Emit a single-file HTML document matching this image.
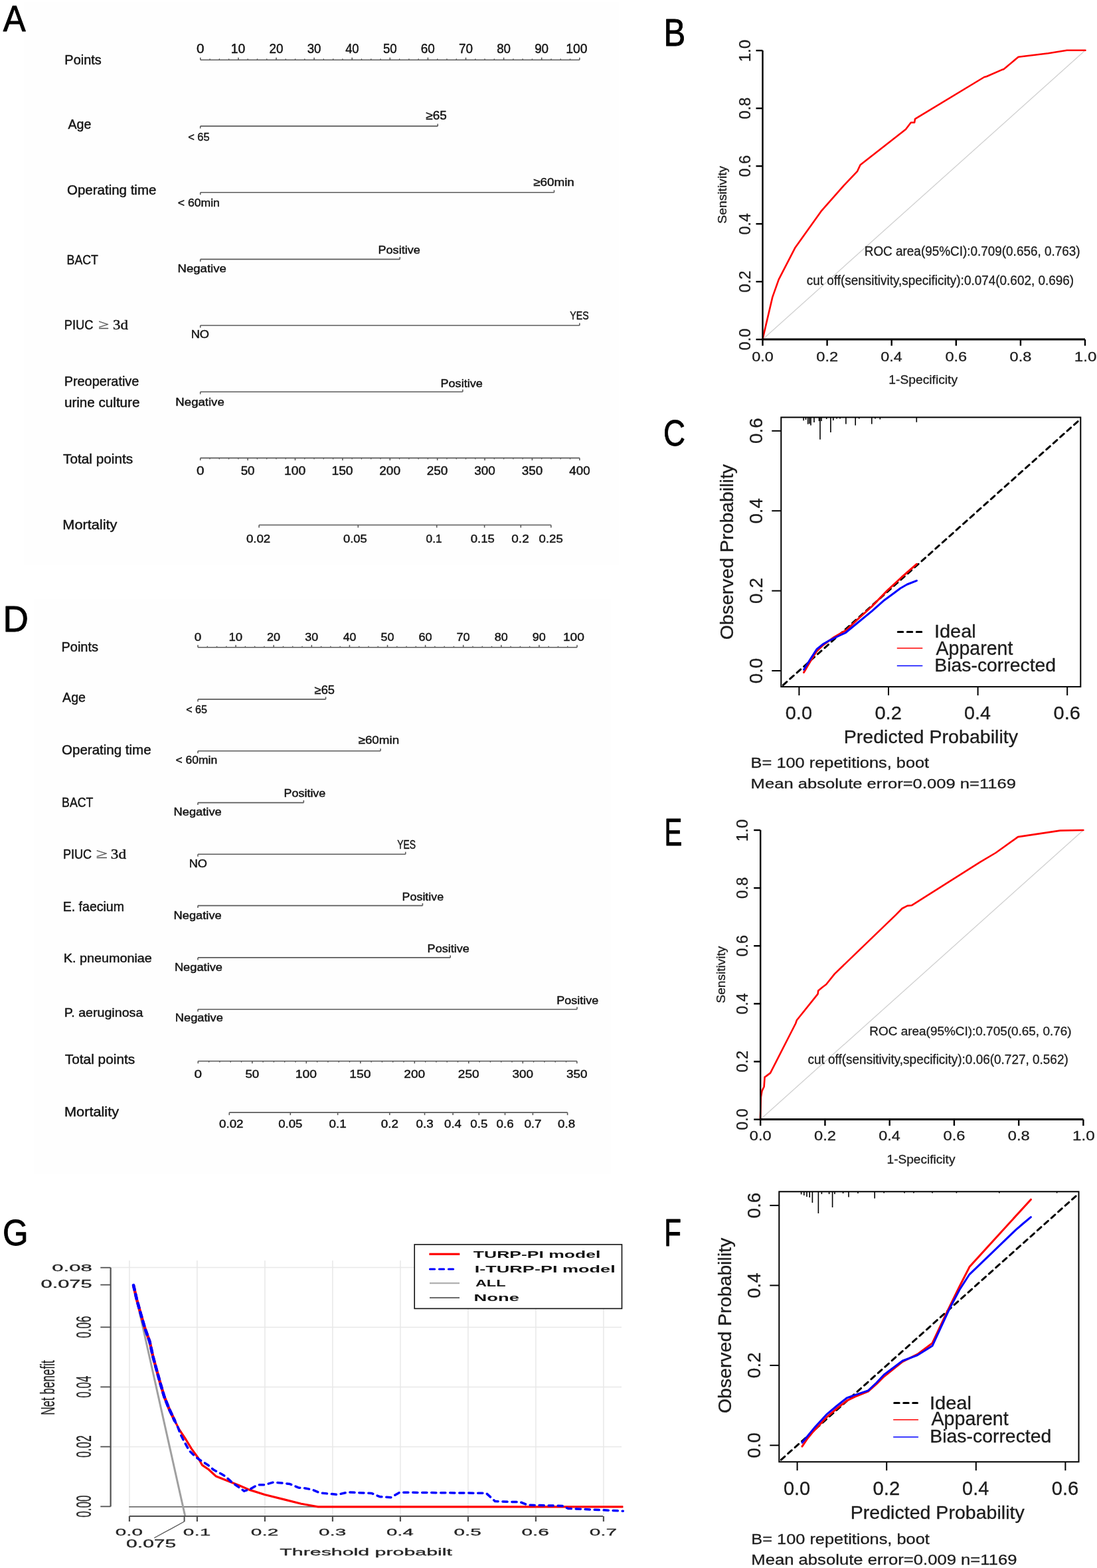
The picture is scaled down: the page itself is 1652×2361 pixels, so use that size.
<!DOCTYPE html>
<html><head><meta charset="utf-8"><title>Figure</title>
<style>html,body{margin:0;padding:0;background:#fff;}body{width:1652px;height:2361px;overflow:hidden;}svg{display:block;}text{white-space:pre;}</style>
</head><body>
<svg width="1652" height="2361" viewBox="0 0 1652 2361">
<rect x="0" y="0" width="1652" height="2361" fill="#ffffff"/>
<rect x="36.00" y="3.00" width="896.00" height="848.00" fill="#fefefe" stroke="none" stroke-width="1"/>
<rect x="51.00" y="902.00" width="869.00" height="866.00" fill="#fefefe" stroke="none" stroke-width="1"/>
<text x="4.80" y="46.60" font-family='"Liberation Sans", Arial, sans-serif' font-size="56.11" fill="#000" textLength="33.90" lengthAdjust="spacingAndGlyphs" stroke="#000" stroke-width="0.9" stroke-linejoin="round">A</text>
<text x="999.58" y="69.40" font-family='"Liberation Sans", Arial, sans-serif' font-size="57.41" fill="#000" textLength="32.71" lengthAdjust="spacingAndGlyphs" stroke="#000" stroke-width="0.9" stroke-linejoin="round">B</text>
<text x="998.88" y="671.20" font-family='"Liberation Sans", Arial, sans-serif' font-size="55.71" fill="#000" textLength="32.96" lengthAdjust="spacingAndGlyphs" stroke="#000" stroke-width="0.9" stroke-linejoin="round">C</text>
<text x="4.54" y="950.50" font-family='"Liberation Sans", Arial, sans-serif' font-size="56.40" fill="#000" textLength="38.41" lengthAdjust="spacingAndGlyphs" stroke="#000" stroke-width="0.9" stroke-linejoin="round">D</text>
<text x="1000.39" y="1273.40" font-family='"Liberation Sans", Arial, sans-serif' font-size="57.27" fill="#000" textLength="26.95" lengthAdjust="spacingAndGlyphs" stroke="#000" stroke-width="0.9" stroke-linejoin="round">E</text>
<text x="1000.24" y="1875.60" font-family='"Liberation Sans", Arial, sans-serif' font-size="57.41" fill="#000" textLength="25.74" lengthAdjust="spacingAndGlyphs" stroke="#000" stroke-width="0.9" stroke-linejoin="round">F</text>
<text x="3.90" y="1875.30" font-family='"Liberation Sans", Arial, sans-serif' font-size="56.00" fill="#000" textLength="38.60" lengthAdjust="spacingAndGlyphs" stroke="#000" stroke-width="0.9" stroke-linejoin="round">G</text>
<line x1="301.80" y1="90.30" x2="872.80" y2="90.30" stroke="#5a5a5a" stroke-width="1.6"/>
<line x1="301.80" y1="90.30" x2="301.80" y2="86.70" stroke="#5a5a5a" stroke-width="1.6"/>
<line x1="358.90" y1="90.30" x2="358.90" y2="86.70" stroke="#5a5a5a" stroke-width="1.6"/>
<line x1="416.00" y1="90.30" x2="416.00" y2="86.70" stroke="#5a5a5a" stroke-width="1.6"/>
<line x1="473.10" y1="90.30" x2="473.10" y2="86.70" stroke="#5a5a5a" stroke-width="1.6"/>
<line x1="530.20" y1="90.30" x2="530.20" y2="86.70" stroke="#5a5a5a" stroke-width="1.6"/>
<line x1="587.30" y1="90.30" x2="587.30" y2="86.70" stroke="#5a5a5a" stroke-width="1.6"/>
<line x1="644.40" y1="90.30" x2="644.40" y2="86.70" stroke="#5a5a5a" stroke-width="1.6"/>
<line x1="701.50" y1="90.30" x2="701.50" y2="86.70" stroke="#5a5a5a" stroke-width="1.6"/>
<line x1="758.60" y1="90.30" x2="758.60" y2="86.70" stroke="#5a5a5a" stroke-width="1.6"/>
<line x1="815.70" y1="90.30" x2="815.70" y2="86.70" stroke="#5a5a5a" stroke-width="1.6"/>
<line x1="872.80" y1="90.30" x2="872.80" y2="86.70" stroke="#5a5a5a" stroke-width="1.6"/>
<line x1="316.07" y1="90.30" x2="316.07" y2="88.30" stroke="#5a5a5a" stroke-width="1.3"/>
<line x1="330.35" y1="90.30" x2="330.35" y2="88.30" stroke="#5a5a5a" stroke-width="1.3"/>
<line x1="344.62" y1="90.30" x2="344.62" y2="88.30" stroke="#5a5a5a" stroke-width="1.3"/>
<line x1="373.18" y1="90.30" x2="373.18" y2="88.30" stroke="#5a5a5a" stroke-width="1.3"/>
<line x1="387.45" y1="90.30" x2="387.45" y2="88.30" stroke="#5a5a5a" stroke-width="1.3"/>
<line x1="401.73" y1="90.30" x2="401.73" y2="88.30" stroke="#5a5a5a" stroke-width="1.3"/>
<line x1="430.27" y1="90.30" x2="430.27" y2="88.30" stroke="#5a5a5a" stroke-width="1.3"/>
<line x1="444.55" y1="90.30" x2="444.55" y2="88.30" stroke="#5a5a5a" stroke-width="1.3"/>
<line x1="458.83" y1="90.30" x2="458.83" y2="88.30" stroke="#5a5a5a" stroke-width="1.3"/>
<line x1="487.38" y1="90.30" x2="487.38" y2="88.30" stroke="#5a5a5a" stroke-width="1.3"/>
<line x1="501.65" y1="90.30" x2="501.65" y2="88.30" stroke="#5a5a5a" stroke-width="1.3"/>
<line x1="515.92" y1="90.30" x2="515.92" y2="88.30" stroke="#5a5a5a" stroke-width="1.3"/>
<line x1="544.48" y1="90.30" x2="544.48" y2="88.30" stroke="#5a5a5a" stroke-width="1.3"/>
<line x1="558.75" y1="90.30" x2="558.75" y2="88.30" stroke="#5a5a5a" stroke-width="1.3"/>
<line x1="573.03" y1="90.30" x2="573.03" y2="88.30" stroke="#5a5a5a" stroke-width="1.3"/>
<line x1="601.58" y1="90.30" x2="601.58" y2="88.30" stroke="#5a5a5a" stroke-width="1.3"/>
<line x1="615.85" y1="90.30" x2="615.85" y2="88.30" stroke="#5a5a5a" stroke-width="1.3"/>
<line x1="630.12" y1="90.30" x2="630.12" y2="88.30" stroke="#5a5a5a" stroke-width="1.3"/>
<line x1="658.67" y1="90.30" x2="658.67" y2="88.30" stroke="#5a5a5a" stroke-width="1.3"/>
<line x1="672.95" y1="90.30" x2="672.95" y2="88.30" stroke="#5a5a5a" stroke-width="1.3"/>
<line x1="687.23" y1="90.30" x2="687.23" y2="88.30" stroke="#5a5a5a" stroke-width="1.3"/>
<line x1="715.78" y1="90.30" x2="715.78" y2="88.30" stroke="#5a5a5a" stroke-width="1.3"/>
<line x1="730.05" y1="90.30" x2="730.05" y2="88.30" stroke="#5a5a5a" stroke-width="1.3"/>
<line x1="744.33" y1="90.30" x2="744.33" y2="88.30" stroke="#5a5a5a" stroke-width="1.3"/>
<line x1="772.88" y1="90.30" x2="772.88" y2="88.30" stroke="#5a5a5a" stroke-width="1.3"/>
<line x1="787.15" y1="90.30" x2="787.15" y2="88.30" stroke="#5a5a5a" stroke-width="1.3"/>
<line x1="801.42" y1="90.30" x2="801.42" y2="88.30" stroke="#5a5a5a" stroke-width="1.3"/>
<line x1="829.98" y1="90.30" x2="829.98" y2="88.30" stroke="#5a5a5a" stroke-width="1.3"/>
<line x1="844.25" y1="90.30" x2="844.25" y2="88.30" stroke="#5a5a5a" stroke-width="1.3"/>
<line x1="858.53" y1="90.30" x2="858.53" y2="88.30" stroke="#5a5a5a" stroke-width="1.3"/>
<text x="296.04" y="79.80" font-family='"Liberation Sans", Arial, sans-serif' font-size="19.62" fill="#141414" textLength="11.52" lengthAdjust="spacingAndGlyphs" stroke="#141414" stroke-width="0.45" stroke-linejoin="round">0</text>
<text x="347.78" y="79.80" font-family='"Liberation Sans", Arial, sans-serif' font-size="19.62" fill="#141414" textLength="21.53" lengthAdjust="spacingAndGlyphs" stroke="#141414" stroke-width="0.45" stroke-linejoin="round">10</text>
<text x="405.40" y="79.80" font-family='"Liberation Sans", Arial, sans-serif' font-size="19.62" fill="#141414" textLength="20.99" lengthAdjust="spacingAndGlyphs" stroke="#141414" stroke-width="0.45" stroke-linejoin="round">20</text>
<text x="462.74" y="79.80" font-family='"Liberation Sans", Arial, sans-serif' font-size="19.62" fill="#141414" textLength="20.74" lengthAdjust="spacingAndGlyphs" stroke="#141414" stroke-width="0.45" stroke-linejoin="round">30</text>
<text x="520.13" y="79.80" font-family='"Liberation Sans", Arial, sans-serif' font-size="19.62" fill="#141414" textLength="20.44" lengthAdjust="spacingAndGlyphs" stroke="#141414" stroke-width="0.45" stroke-linejoin="round">40</text>
<text x="576.90" y="79.80" font-family='"Liberation Sans", Arial, sans-serif' font-size="19.62" fill="#141414" textLength="20.78" lengthAdjust="spacingAndGlyphs" stroke="#141414" stroke-width="0.45" stroke-linejoin="round">50</text>
<text x="633.79" y="79.80" font-family='"Liberation Sans", Arial, sans-serif' font-size="19.62" fill="#141414" textLength="21.00" lengthAdjust="spacingAndGlyphs" stroke="#141414" stroke-width="0.45" stroke-linejoin="round">60</text>
<text x="690.88" y="79.80" font-family='"Liberation Sans", Arial, sans-serif' font-size="19.62" fill="#141414" textLength="21.01" lengthAdjust="spacingAndGlyphs" stroke="#141414" stroke-width="0.45" stroke-linejoin="round">70</text>
<text x="748.14" y="79.80" font-family='"Liberation Sans", Arial, sans-serif' font-size="19.62" fill="#141414" textLength="20.85" lengthAdjust="spacingAndGlyphs" stroke="#141414" stroke-width="0.45" stroke-linejoin="round">80</text>
<text x="805.17" y="79.80" font-family='"Liberation Sans", Arial, sans-serif' font-size="19.62" fill="#141414" textLength="20.92" lengthAdjust="spacingAndGlyphs" stroke="#141414" stroke-width="0.45" stroke-linejoin="round">90</text>
<text x="852.23" y="79.80" font-family='"Liberation Sans", Arial, sans-serif' font-size="19.62" fill="#141414" textLength="32.23" lengthAdjust="spacingAndGlyphs" stroke="#141414" stroke-width="0.45" stroke-linejoin="round">100</text>
<text x="97.37" y="97.00" font-family='"Liberation Sans", Arial, sans-serif' font-size="19.32" fill="#141414" textLength="55.35" lengthAdjust="spacingAndGlyphs" stroke="#141414" stroke-width="0.45" stroke-linejoin="round">Points</text>
<text x="102.56" y="193.90" font-family='"Liberation Sans", Arial, sans-serif' font-size="20.20" fill="#141414" textLength="34.81" lengthAdjust="spacingAndGlyphs" stroke="#141414" stroke-width="0.45" stroke-linejoin="round">Age</text>
<text x="101.03" y="292.80" font-family='"Liberation Sans", Arial, sans-serif' font-size="19.32" fill="#141414" textLength="134.38" lengthAdjust="spacingAndGlyphs" stroke="#141414" stroke-width="0.45" stroke-linejoin="round">Operating time</text>
<text x="100.54" y="398.30" font-family='"Liberation Sans", Arial, sans-serif' font-size="19.91" fill="#141414" textLength="47.36" lengthAdjust="spacingAndGlyphs" stroke="#141414" stroke-width="0.45" stroke-linejoin="round">BACT</text>
<text x="96.80" y="495.60" font-family='"Liberation Sans", Arial, sans-serif' font-size="19.76" fill="#141414" textLength="43.80" lengthAdjust="spacingAndGlyphs" stroke="#141414" stroke-width="0.45" stroke-linejoin="round">PIUC</text>
<text x="147.99" y="494.60" font-family='"Liberation Serif", "Times New Roman", serif' font-size="19.89" fill="#505050" textLength="16.24" lengthAdjust="spacingAndGlyphs" stroke="#505050" stroke-width="0.3" stroke-linejoin="round">≥</text>
<text x="170.01" y="495.60" font-family='"Liberation Serif", "Times New Roman", serif' font-size="21.62" fill="#141414" textLength="22.77" lengthAdjust="spacingAndGlyphs" stroke="#141414" stroke-width="0.45" stroke-linejoin="round">3d</text>
<text x="96.67" y="581.30" font-family='"Liberation Sans", Arial, sans-serif' font-size="19.73" fill="#141414" textLength="112.71" lengthAdjust="spacingAndGlyphs" stroke="#141414" stroke-width="0.45" stroke-linejoin="round">Preoperative</text>
<text x="96.96" y="612.70" font-family='"Liberation Sans", Arial, sans-serif' font-size="19.32" fill="#141414" textLength="113.46" lengthAdjust="spacingAndGlyphs" stroke="#141414" stroke-width="0.45" stroke-linejoin="round">urine culture</text>
<text x="95.14" y="697.90" font-family='"Liberation Sans", Arial, sans-serif' font-size="20.29" fill="#141414" textLength="104.99" lengthAdjust="spacingAndGlyphs" stroke="#141414" stroke-width="0.45" stroke-linejoin="round">Total points</text>
<text x="94.32" y="797.20" font-family='"Liberation Sans", Arial, sans-serif' font-size="20.42" fill="#141414" textLength="82.13" lengthAdjust="spacingAndGlyphs" stroke="#141414" stroke-width="0.45" stroke-linejoin="round">Mortality</text>
<line x1="301.70" y1="189.90" x2="659.20" y2="189.90" stroke="#5a5a5a" stroke-width="1.6"/>
<line x1="301.70" y1="189.90" x2="301.70" y2="193.40" stroke="#5a5a5a" stroke-width="1.6"/>
<line x1="659.20" y1="189.90" x2="659.20" y2="186.40" stroke="#5a5a5a" stroke-width="1.6"/>
<text x="283.19" y="211.60" font-family='"Liberation Sans", Arial, sans-serif' font-size="17.04" fill="#141414" textLength="32.50" lengthAdjust="spacingAndGlyphs" stroke="#141414" stroke-width="0.45" stroke-linejoin="round">&lt; 65</text>
<text x="641.40" y="180.30" font-family='"Liberation Sans", Arial, sans-serif' font-size="17.90" fill="#141414" textLength="31.39" lengthAdjust="spacingAndGlyphs" stroke="#141414" stroke-width="0.45" stroke-linejoin="round">≥65</text>
<line x1="301.70" y1="289.80" x2="834.50" y2="289.80" stroke="#5a5a5a" stroke-width="1.6"/>
<line x1="301.70" y1="289.80" x2="301.70" y2="293.30" stroke="#5a5a5a" stroke-width="1.6"/>
<line x1="834.50" y1="289.80" x2="834.50" y2="286.30" stroke="#5a5a5a" stroke-width="1.6"/>
<text x="267.83" y="311.00" font-family='"Liberation Sans", Arial, sans-serif' font-size="16.84" fill="#141414" textLength="63.01" lengthAdjust="spacingAndGlyphs" stroke="#141414" stroke-width="0.45" stroke-linejoin="round">&lt; 60min</text>
<text x="803.20" y="279.80" font-family='"Liberation Sans", Arial, sans-serif' font-size="17.11" fill="#141414" textLength="61.62" lengthAdjust="spacingAndGlyphs" stroke="#141414" stroke-width="0.45" stroke-linejoin="round">≥60min</text>
<line x1="301.70" y1="390.40" x2="602.20" y2="390.40" stroke="#5a5a5a" stroke-width="1.6"/>
<line x1="301.70" y1="390.40" x2="301.70" y2="393.90" stroke="#5a5a5a" stroke-width="1.6"/>
<line x1="602.20" y1="390.40" x2="602.20" y2="386.90" stroke="#5a5a5a" stroke-width="1.6"/>
<text x="267.48" y="410.40" font-family='"Liberation Sans", Arial, sans-serif' font-size="16.56" fill="#141414" textLength="73.35" lengthAdjust="spacingAndGlyphs" stroke="#141414" stroke-width="0.45" stroke-linejoin="round">Negative</text>
<text x="569.52" y="382.40" font-family='"Liberation Sans", Arial, sans-serif' font-size="16.56" fill="#141414" textLength="63.29" lengthAdjust="spacingAndGlyphs" stroke="#141414" stroke-width="0.45" stroke-linejoin="round">Positive</text>
<line x1="301.70" y1="490.00" x2="872.80" y2="490.00" stroke="#5a5a5a" stroke-width="1.6"/>
<line x1="301.70" y1="490.00" x2="301.70" y2="493.50" stroke="#5a5a5a" stroke-width="1.6"/>
<line x1="872.80" y1="490.00" x2="872.80" y2="486.50" stroke="#5a5a5a" stroke-width="1.6"/>
<text x="287.70" y="509.10" font-family='"Liberation Sans", Arial, sans-serif' font-size="16.61" fill="#141414" textLength="27.37" lengthAdjust="spacingAndGlyphs" stroke="#141414" stroke-width="0.45" stroke-linejoin="round">NO</text>
<text x="858.29" y="481.00" font-family='"Liberation Sans", Arial, sans-serif' font-size="17.19" fill="#141414" textLength="28.36" lengthAdjust="spacingAndGlyphs" stroke="#141414" stroke-width="0.45" stroke-linejoin="round">YES</text>
<line x1="301.70" y1="590.00" x2="696.80" y2="590.00" stroke="#5a5a5a" stroke-width="1.6"/>
<line x1="301.70" y1="590.00" x2="301.70" y2="593.50" stroke="#5a5a5a" stroke-width="1.6"/>
<line x1="696.80" y1="590.00" x2="696.80" y2="586.50" stroke="#5a5a5a" stroke-width="1.6"/>
<text x="264.38" y="610.80" font-family='"Liberation Sans", Arial, sans-serif' font-size="16.56" fill="#141414" textLength="73.35" lengthAdjust="spacingAndGlyphs" stroke="#141414" stroke-width="0.45" stroke-linejoin="round">Negative</text>
<text x="663.52" y="583.00" font-family='"Liberation Sans", Arial, sans-serif' font-size="16.56" fill="#141414" textLength="63.29" lengthAdjust="spacingAndGlyphs" stroke="#141414" stroke-width="0.45" stroke-linejoin="round">Positive</text>
<line x1="301.70" y1="689.60" x2="872.82" y2="689.60" stroke="#5a5a5a" stroke-width="1.6"/>
<line x1="301.70" y1="689.60" x2="301.70" y2="693.20" stroke="#5a5a5a" stroke-width="1.6"/>
<line x1="373.09" y1="689.60" x2="373.09" y2="693.20" stroke="#5a5a5a" stroke-width="1.6"/>
<line x1="444.48" y1="689.60" x2="444.48" y2="693.20" stroke="#5a5a5a" stroke-width="1.6"/>
<line x1="515.87" y1="689.60" x2="515.87" y2="693.20" stroke="#5a5a5a" stroke-width="1.6"/>
<line x1="587.26" y1="689.60" x2="587.26" y2="693.20" stroke="#5a5a5a" stroke-width="1.6"/>
<line x1="658.65" y1="689.60" x2="658.65" y2="693.20" stroke="#5a5a5a" stroke-width="1.6"/>
<line x1="730.04" y1="689.60" x2="730.04" y2="693.20" stroke="#5a5a5a" stroke-width="1.6"/>
<line x1="801.43" y1="689.60" x2="801.43" y2="693.20" stroke="#5a5a5a" stroke-width="1.6"/>
<line x1="872.82" y1="689.60" x2="872.82" y2="693.20" stroke="#5a5a5a" stroke-width="1.6"/>
<line x1="315.98" y1="689.60" x2="315.98" y2="691.60" stroke="#5a5a5a" stroke-width="1.3"/>
<line x1="330.26" y1="689.60" x2="330.26" y2="691.60" stroke="#5a5a5a" stroke-width="1.3"/>
<line x1="344.53" y1="689.60" x2="344.53" y2="691.60" stroke="#5a5a5a" stroke-width="1.3"/>
<line x1="358.81" y1="689.60" x2="358.81" y2="691.60" stroke="#5a5a5a" stroke-width="1.3"/>
<line x1="387.37" y1="689.60" x2="387.37" y2="691.60" stroke="#5a5a5a" stroke-width="1.3"/>
<line x1="401.65" y1="689.60" x2="401.65" y2="691.60" stroke="#5a5a5a" stroke-width="1.3"/>
<line x1="415.92" y1="689.60" x2="415.92" y2="691.60" stroke="#5a5a5a" stroke-width="1.3"/>
<line x1="430.20" y1="689.60" x2="430.20" y2="691.60" stroke="#5a5a5a" stroke-width="1.3"/>
<line x1="458.76" y1="689.60" x2="458.76" y2="691.60" stroke="#5a5a5a" stroke-width="1.3"/>
<line x1="473.04" y1="689.60" x2="473.04" y2="691.60" stroke="#5a5a5a" stroke-width="1.3"/>
<line x1="487.31" y1="689.60" x2="487.31" y2="691.60" stroke="#5a5a5a" stroke-width="1.3"/>
<line x1="501.59" y1="689.60" x2="501.59" y2="691.60" stroke="#5a5a5a" stroke-width="1.3"/>
<line x1="530.15" y1="689.60" x2="530.15" y2="691.60" stroke="#5a5a5a" stroke-width="1.3"/>
<line x1="544.43" y1="689.60" x2="544.43" y2="691.60" stroke="#5a5a5a" stroke-width="1.3"/>
<line x1="558.70" y1="689.60" x2="558.70" y2="691.60" stroke="#5a5a5a" stroke-width="1.3"/>
<line x1="572.98" y1="689.60" x2="572.98" y2="691.60" stroke="#5a5a5a" stroke-width="1.3"/>
<line x1="601.54" y1="689.60" x2="601.54" y2="691.60" stroke="#5a5a5a" stroke-width="1.3"/>
<line x1="615.82" y1="689.60" x2="615.82" y2="691.60" stroke="#5a5a5a" stroke-width="1.3"/>
<line x1="630.09" y1="689.60" x2="630.09" y2="691.60" stroke="#5a5a5a" stroke-width="1.3"/>
<line x1="644.37" y1="689.60" x2="644.37" y2="691.60" stroke="#5a5a5a" stroke-width="1.3"/>
<line x1="672.93" y1="689.60" x2="672.93" y2="691.60" stroke="#5a5a5a" stroke-width="1.3"/>
<line x1="687.21" y1="689.60" x2="687.21" y2="691.60" stroke="#5a5a5a" stroke-width="1.3"/>
<line x1="701.48" y1="689.60" x2="701.48" y2="691.60" stroke="#5a5a5a" stroke-width="1.3"/>
<line x1="715.76" y1="689.60" x2="715.76" y2="691.60" stroke="#5a5a5a" stroke-width="1.3"/>
<line x1="744.32" y1="689.60" x2="744.32" y2="691.60" stroke="#5a5a5a" stroke-width="1.3"/>
<line x1="758.60" y1="689.60" x2="758.60" y2="691.60" stroke="#5a5a5a" stroke-width="1.3"/>
<line x1="772.87" y1="689.60" x2="772.87" y2="691.60" stroke="#5a5a5a" stroke-width="1.3"/>
<line x1="787.15" y1="689.60" x2="787.15" y2="691.60" stroke="#5a5a5a" stroke-width="1.3"/>
<line x1="815.71" y1="689.60" x2="815.71" y2="691.60" stroke="#5a5a5a" stroke-width="1.3"/>
<line x1="829.99" y1="689.60" x2="829.99" y2="691.60" stroke="#5a5a5a" stroke-width="1.3"/>
<line x1="844.26" y1="689.60" x2="844.26" y2="691.60" stroke="#5a5a5a" stroke-width="1.3"/>
<line x1="858.54" y1="689.60" x2="858.54" y2="691.60" stroke="#5a5a5a" stroke-width="1.3"/>
<text x="295.94" y="714.50" font-family='"Liberation Sans", Arial, sans-serif' font-size="17.47" fill="#141414" textLength="11.52" lengthAdjust="spacingAndGlyphs" stroke="#141414" stroke-width="0.45" stroke-linejoin="round">0</text>
<text x="362.69" y="714.50" font-family='"Liberation Sans", Arial, sans-serif' font-size="17.47" fill="#141414" textLength="20.78" lengthAdjust="spacingAndGlyphs" stroke="#141414" stroke-width="0.45" stroke-linejoin="round">50</text>
<text x="428.01" y="714.50" font-family='"Liberation Sans", Arial, sans-serif' font-size="17.47" fill="#141414" textLength="32.23" lengthAdjust="spacingAndGlyphs" stroke="#141414" stroke-width="0.45" stroke-linejoin="round">100</text>
<text x="499.40" y="714.50" font-family='"Liberation Sans", Arial, sans-serif' font-size="17.47" fill="#141414" textLength="32.23" lengthAdjust="spacingAndGlyphs" stroke="#141414" stroke-width="0.45" stroke-linejoin="round">150</text>
<text x="571.30" y="714.50" font-family='"Liberation Sans", Arial, sans-serif' font-size="17.47" fill="#141414" textLength="31.70" lengthAdjust="spacingAndGlyphs" stroke="#141414" stroke-width="0.45" stroke-linejoin="round">200</text>
<text x="642.69" y="714.50" font-family='"Liberation Sans", Arial, sans-serif' font-size="17.47" fill="#141414" textLength="31.70" lengthAdjust="spacingAndGlyphs" stroke="#141414" stroke-width="0.45" stroke-linejoin="round">250</text>
<text x="714.32" y="714.50" font-family='"Liberation Sans", Arial, sans-serif' font-size="17.47" fill="#141414" textLength="31.45" lengthAdjust="spacingAndGlyphs" stroke="#141414" stroke-width="0.45" stroke-linejoin="round">300</text>
<text x="785.71" y="714.50" font-family='"Liberation Sans", Arial, sans-serif' font-size="17.47" fill="#141414" textLength="31.45" lengthAdjust="spacingAndGlyphs" stroke="#141414" stroke-width="0.45" stroke-linejoin="round">350</text>
<text x="857.39" y="714.50" font-family='"Liberation Sans", Arial, sans-serif' font-size="17.47" fill="#141414" textLength="31.16" lengthAdjust="spacingAndGlyphs" stroke="#141414" stroke-width="0.45" stroke-linejoin="round">400</text>
<line x1="390.10" y1="790.50" x2="829.80" y2="790.50" stroke="#5a5a5a" stroke-width="1.6"/>
<line x1="390.10" y1="790.50" x2="390.10" y2="794.50" stroke="#5a5a5a" stroke-width="1.6"/>
<line x1="539.30" y1="790.50" x2="539.30" y2="794.50" stroke="#5a5a5a" stroke-width="1.6"/>
<line x1="657.70" y1="790.50" x2="657.70" y2="794.50" stroke="#5a5a5a" stroke-width="1.6"/>
<line x1="729.60" y1="790.50" x2="729.60" y2="794.50" stroke="#5a5a5a" stroke-width="1.6"/>
<line x1="784.30" y1="790.50" x2="784.30" y2="794.50" stroke="#5a5a5a" stroke-width="1.6"/>
<line x1="829.80" y1="790.50" x2="829.80" y2="794.50" stroke="#5a5a5a" stroke-width="1.6"/>
<text x="370.92" y="817.00" font-family='"Liberation Sans", Arial, sans-serif' font-size="16.76" fill="#141414" textLength="36.37" lengthAdjust="spacingAndGlyphs" stroke="#141414" stroke-width="0.45" stroke-linejoin="round">0.02</text>
<text x="517.03" y="817.00" font-family='"Liberation Sans", Arial, sans-serif' font-size="16.76" fill="#141414" textLength="35.79" lengthAdjust="spacingAndGlyphs" stroke="#141414" stroke-width="0.45" stroke-linejoin="round">0.05</text>
<text x="641.63" y="817.00" font-family='"Liberation Sans", Arial, sans-serif' font-size="16.76" fill="#141414" textLength="23.91" lengthAdjust="spacingAndGlyphs" stroke="#141414" stroke-width="0.45" stroke-linejoin="round">0.1</text>
<text x="708.83" y="817.00" font-family='"Liberation Sans", Arial, sans-serif' font-size="16.76" fill="#141414" textLength="36.00" lengthAdjust="spacingAndGlyphs" stroke="#141414" stroke-width="0.45" stroke-linejoin="round">0.15</text>
<text x="770.31" y="817.00" font-family='"Liberation Sans", Arial, sans-serif' font-size="16.76" fill="#141414" textLength="26.40" lengthAdjust="spacingAndGlyphs" stroke="#141414" stroke-width="0.45" stroke-linejoin="round">0.2</text>
<text x="811.62" y="817.00" font-family='"Liberation Sans", Arial, sans-serif' font-size="16.76" fill="#141414" textLength="36.21" lengthAdjust="spacingAndGlyphs" stroke="#141414" stroke-width="0.45" stroke-linejoin="round">0.25</text>
<line x1="298.00" y1="974.80" x2="869.00" y2="974.80" stroke="#5a5a5a" stroke-width="1.6"/>
<line x1="298.00" y1="974.80" x2="298.00" y2="971.20" stroke="#5a5a5a" stroke-width="1.6"/>
<line x1="355.10" y1="974.80" x2="355.10" y2="971.20" stroke="#5a5a5a" stroke-width="1.6"/>
<line x1="412.20" y1="974.80" x2="412.20" y2="971.20" stroke="#5a5a5a" stroke-width="1.6"/>
<line x1="469.30" y1="974.80" x2="469.30" y2="971.20" stroke="#5a5a5a" stroke-width="1.6"/>
<line x1="526.40" y1="974.80" x2="526.40" y2="971.20" stroke="#5a5a5a" stroke-width="1.6"/>
<line x1="583.50" y1="974.80" x2="583.50" y2="971.20" stroke="#5a5a5a" stroke-width="1.6"/>
<line x1="640.60" y1="974.80" x2="640.60" y2="971.20" stroke="#5a5a5a" stroke-width="1.6"/>
<line x1="697.70" y1="974.80" x2="697.70" y2="971.20" stroke="#5a5a5a" stroke-width="1.6"/>
<line x1="754.80" y1="974.80" x2="754.80" y2="971.20" stroke="#5a5a5a" stroke-width="1.6"/>
<line x1="811.90" y1="974.80" x2="811.90" y2="971.20" stroke="#5a5a5a" stroke-width="1.6"/>
<line x1="869.00" y1="974.80" x2="869.00" y2="971.20" stroke="#5a5a5a" stroke-width="1.6"/>
<line x1="312.27" y1="974.80" x2="312.27" y2="972.80" stroke="#5a5a5a" stroke-width="1.3"/>
<line x1="326.55" y1="974.80" x2="326.55" y2="972.80" stroke="#5a5a5a" stroke-width="1.3"/>
<line x1="340.82" y1="974.80" x2="340.82" y2="972.80" stroke="#5a5a5a" stroke-width="1.3"/>
<line x1="369.38" y1="974.80" x2="369.38" y2="972.80" stroke="#5a5a5a" stroke-width="1.3"/>
<line x1="383.65" y1="974.80" x2="383.65" y2="972.80" stroke="#5a5a5a" stroke-width="1.3"/>
<line x1="397.93" y1="974.80" x2="397.93" y2="972.80" stroke="#5a5a5a" stroke-width="1.3"/>
<line x1="426.48" y1="974.80" x2="426.48" y2="972.80" stroke="#5a5a5a" stroke-width="1.3"/>
<line x1="440.75" y1="974.80" x2="440.75" y2="972.80" stroke="#5a5a5a" stroke-width="1.3"/>
<line x1="455.02" y1="974.80" x2="455.02" y2="972.80" stroke="#5a5a5a" stroke-width="1.3"/>
<line x1="483.58" y1="974.80" x2="483.58" y2="972.80" stroke="#5a5a5a" stroke-width="1.3"/>
<line x1="497.85" y1="974.80" x2="497.85" y2="972.80" stroke="#5a5a5a" stroke-width="1.3"/>
<line x1="512.12" y1="974.80" x2="512.12" y2="972.80" stroke="#5a5a5a" stroke-width="1.3"/>
<line x1="540.67" y1="974.80" x2="540.67" y2="972.80" stroke="#5a5a5a" stroke-width="1.3"/>
<line x1="554.95" y1="974.80" x2="554.95" y2="972.80" stroke="#5a5a5a" stroke-width="1.3"/>
<line x1="569.23" y1="974.80" x2="569.23" y2="972.80" stroke="#5a5a5a" stroke-width="1.3"/>
<line x1="597.78" y1="974.80" x2="597.78" y2="972.80" stroke="#5a5a5a" stroke-width="1.3"/>
<line x1="612.05" y1="974.80" x2="612.05" y2="972.80" stroke="#5a5a5a" stroke-width="1.3"/>
<line x1="626.33" y1="974.80" x2="626.33" y2="972.80" stroke="#5a5a5a" stroke-width="1.3"/>
<line x1="654.88" y1="974.80" x2="654.88" y2="972.80" stroke="#5a5a5a" stroke-width="1.3"/>
<line x1="669.15" y1="974.80" x2="669.15" y2="972.80" stroke="#5a5a5a" stroke-width="1.3"/>
<line x1="683.42" y1="974.80" x2="683.42" y2="972.80" stroke="#5a5a5a" stroke-width="1.3"/>
<line x1="711.98" y1="974.80" x2="711.98" y2="972.80" stroke="#5a5a5a" stroke-width="1.3"/>
<line x1="726.25" y1="974.80" x2="726.25" y2="972.80" stroke="#5a5a5a" stroke-width="1.3"/>
<line x1="740.53" y1="974.80" x2="740.53" y2="972.80" stroke="#5a5a5a" stroke-width="1.3"/>
<line x1="769.08" y1="974.80" x2="769.08" y2="972.80" stroke="#5a5a5a" stroke-width="1.3"/>
<line x1="783.35" y1="974.80" x2="783.35" y2="972.80" stroke="#5a5a5a" stroke-width="1.3"/>
<line x1="797.62" y1="974.80" x2="797.62" y2="972.80" stroke="#5a5a5a" stroke-width="1.3"/>
<line x1="826.18" y1="974.80" x2="826.18" y2="972.80" stroke="#5a5a5a" stroke-width="1.3"/>
<line x1="840.45" y1="974.80" x2="840.45" y2="972.80" stroke="#5a5a5a" stroke-width="1.3"/>
<line x1="854.73" y1="974.80" x2="854.73" y2="972.80" stroke="#5a5a5a" stroke-width="1.3"/>
<text x="292.76" y="965.00" font-family='"Liberation Sans", Arial, sans-serif' font-size="17.19" fill="#141414" textLength="10.47" lengthAdjust="spacingAndGlyphs" stroke="#141414" stroke-width="0.45" stroke-linejoin="round">0</text>
<text x="344.44" y="965.00" font-family='"Liberation Sans", Arial, sans-serif' font-size="17.19" fill="#141414" textLength="20.64" lengthAdjust="spacingAndGlyphs" stroke="#141414" stroke-width="0.45" stroke-linejoin="round">10</text>
<text x="402.04" y="965.00" font-family='"Liberation Sans", Arial, sans-serif' font-size="17.19" fill="#141414" textLength="20.12" lengthAdjust="spacingAndGlyphs" stroke="#141414" stroke-width="0.45" stroke-linejoin="round">20</text>
<text x="459.37" y="965.00" font-family='"Liberation Sans", Arial, sans-serif' font-size="17.19" fill="#141414" textLength="19.88" lengthAdjust="spacingAndGlyphs" stroke="#141414" stroke-width="0.45" stroke-linejoin="round">30</text>
<text x="516.75" y="965.00" font-family='"Liberation Sans", Arial, sans-serif' font-size="17.19" fill="#141414" textLength="19.59" lengthAdjust="spacingAndGlyphs" stroke="#141414" stroke-width="0.45" stroke-linejoin="round">40</text>
<text x="573.53" y="965.00" font-family='"Liberation Sans", Arial, sans-serif' font-size="17.19" fill="#141414" textLength="19.92" lengthAdjust="spacingAndGlyphs" stroke="#141414" stroke-width="0.45" stroke-linejoin="round">50</text>
<text x="630.43" y="965.00" font-family='"Liberation Sans", Arial, sans-serif' font-size="17.19" fill="#141414" textLength="20.13" lengthAdjust="spacingAndGlyphs" stroke="#141414" stroke-width="0.45" stroke-linejoin="round">60</text>
<text x="687.52" y="965.00" font-family='"Liberation Sans", Arial, sans-serif' font-size="17.19" fill="#141414" textLength="20.14" lengthAdjust="spacingAndGlyphs" stroke="#141414" stroke-width="0.45" stroke-linejoin="round">70</text>
<text x="744.77" y="965.00" font-family='"Liberation Sans", Arial, sans-serif' font-size="17.19" fill="#141414" textLength="19.98" lengthAdjust="spacingAndGlyphs" stroke="#141414" stroke-width="0.45" stroke-linejoin="round">80</text>
<text x="801.81" y="965.00" font-family='"Liberation Sans", Arial, sans-serif' font-size="17.19" fill="#141414" textLength="20.05" lengthAdjust="spacingAndGlyphs" stroke="#141414" stroke-width="0.45" stroke-linejoin="round">90</text>
<text x="847.94" y="965.00" font-family='"Liberation Sans", Arial, sans-serif' font-size="17.19" fill="#141414" textLength="32.01" lengthAdjust="spacingAndGlyphs" stroke="#141414" stroke-width="0.45" stroke-linejoin="round">100</text>
<text x="92.46" y="980.70" font-family='"Liberation Sans", Arial, sans-serif' font-size="19.60" fill="#141414" textLength="55.56" lengthAdjust="spacingAndGlyphs" stroke="#141414" stroke-width="0.45" stroke-linejoin="round">Points</text>
<text x="94.06" y="1056.90" font-family='"Liberation Sans", Arial, sans-serif' font-size="20.20" fill="#141414" textLength="34.91" lengthAdjust="spacingAndGlyphs" stroke="#141414" stroke-width="0.45" stroke-linejoin="round">Age</text>
<text x="93.03" y="1136.40" font-family='"Liberation Sans", Arial, sans-serif' font-size="19.32" fill="#141414" textLength="134.58" lengthAdjust="spacingAndGlyphs" stroke="#141414" stroke-width="0.45" stroke-linejoin="round">Operating time</text>
<text x="93.04" y="1214.70" font-family='"Liberation Sans", Arial, sans-serif' font-size="19.91" fill="#141414" textLength="47.36" lengthAdjust="spacingAndGlyphs" stroke="#141414" stroke-width="0.45" stroke-linejoin="round">BACT</text>
<text x="94.91" y="1292.70" font-family='"Liberation Sans", Arial, sans-serif' font-size="20.19" fill="#141414" textLength="43.28" lengthAdjust="spacingAndGlyphs" stroke="#141414" stroke-width="0.45" stroke-linejoin="round">PIUC</text>
<text x="144.59" y="1291.70" font-family='"Liberation Serif", "Times New Roman", serif' font-size="20.41" fill="#505050" textLength="17.54" lengthAdjust="spacingAndGlyphs" stroke="#505050" stroke-width="0.3" stroke-linejoin="round">≥</text>
<text x="166.79" y="1292.70" font-family='"Liberation Serif", "Times New Roman", serif' font-size="21.62" fill="#141414" textLength="23.19" lengthAdjust="spacingAndGlyphs" stroke="#141414" stroke-width="0.45" stroke-linejoin="round">3d</text>
<text x="94.80" y="1371.50" font-family='"Liberation Sans", Arial, sans-serif' font-size="19.32" fill="#141414" textLength="92.08" lengthAdjust="spacingAndGlyphs" stroke="#141414" stroke-width="0.45" stroke-linejoin="round">E. faecium</text>
<text x="95.68" y="1448.90" font-family='"Liberation Sans", Arial, sans-serif' font-size="19.18" fill="#141414" textLength="133.20" lengthAdjust="spacingAndGlyphs" stroke="#141414" stroke-width="0.45" stroke-linejoin="round">K. pneumoniae</text>
<text x="96.72" y="1530.50" font-family='"Liberation Sans", Arial, sans-serif' font-size="19.18" fill="#141414" textLength="118.58" lengthAdjust="spacingAndGlyphs" stroke="#141414" stroke-width="0.45" stroke-linejoin="round">P. aeruginosa</text>
<text x="97.84" y="1602.00" font-family='"Liberation Sans", Arial, sans-serif' font-size="20.15" fill="#141414" textLength="105.39" lengthAdjust="spacingAndGlyphs" stroke="#141414" stroke-width="0.45" stroke-linejoin="round">Total points</text>
<text x="97.02" y="1681.30" font-family='"Liberation Sans", Arial, sans-serif' font-size="20.15" fill="#141414" textLength="82.02" lengthAdjust="spacingAndGlyphs" stroke="#141414" stroke-width="0.45" stroke-linejoin="round">Mortality</text>
<line x1="298.00" y1="1052.90" x2="490.50" y2="1052.90" stroke="#5a5a5a" stroke-width="1.6"/>
<line x1="298.00" y1="1052.90" x2="298.00" y2="1056.40" stroke="#5a5a5a" stroke-width="1.6"/>
<line x1="490.50" y1="1052.90" x2="490.50" y2="1049.40" stroke="#5a5a5a" stroke-width="1.6"/>
<text x="280.21" y="1074.40" font-family='"Liberation Sans", Arial, sans-serif' font-size="17.04" fill="#141414" textLength="31.77" lengthAdjust="spacingAndGlyphs" stroke="#141414" stroke-width="0.45" stroke-linejoin="round">&lt; 65</text>
<text x="473.62" y="1044.70" font-family='"Liberation Sans", Arial, sans-serif' font-size="17.47" fill="#141414" textLength="30.35" lengthAdjust="spacingAndGlyphs" stroke="#141414" stroke-width="0.45" stroke-linejoin="round">≥65</text>
<line x1="298.00" y1="1130.80" x2="573.00" y2="1130.80" stroke="#5a5a5a" stroke-width="1.6"/>
<line x1="298.00" y1="1130.80" x2="298.00" y2="1134.30" stroke="#5a5a5a" stroke-width="1.6"/>
<line x1="573.00" y1="1130.80" x2="573.00" y2="1127.30" stroke="#5a5a5a" stroke-width="1.6"/>
<text x="264.44" y="1150.30" font-family='"Liberation Sans", Arial, sans-serif' font-size="16.84" fill="#141414" textLength="62.70" lengthAdjust="spacingAndGlyphs" stroke="#141414" stroke-width="0.45" stroke-linejoin="round">&lt; 60min</text>
<text x="539.60" y="1120.40" font-family='"Liberation Sans", Arial, sans-serif' font-size="16.97" fill="#141414" textLength="61.52" lengthAdjust="spacingAndGlyphs" stroke="#141414" stroke-width="0.45" stroke-linejoin="round">≥60min</text>
<line x1="298.00" y1="1208.60" x2="457.30" y2="1208.60" stroke="#5a5a5a" stroke-width="1.6"/>
<line x1="298.00" y1="1208.60" x2="298.00" y2="1212.10" stroke="#5a5a5a" stroke-width="1.6"/>
<line x1="457.30" y1="1208.60" x2="457.30" y2="1205.10" stroke="#5a5a5a" stroke-width="1.6"/>
<text x="261.60" y="1227.70" font-family='"Liberation Sans", Arial, sans-serif' font-size="16.42" fill="#141414" textLength="72.11" lengthAdjust="spacingAndGlyphs" stroke="#141414" stroke-width="0.45" stroke-linejoin="round">Negative</text>
<text x="427.42" y="1199.90" font-family='"Liberation Sans", Arial, sans-serif' font-size="16.56" fill="#141414" textLength="62.97" lengthAdjust="spacingAndGlyphs" stroke="#141414" stroke-width="0.45" stroke-linejoin="round">Positive</text>
<line x1="298.00" y1="1286.20" x2="610.70" y2="1286.20" stroke="#5a5a5a" stroke-width="1.6"/>
<line x1="298.00" y1="1286.20" x2="298.00" y2="1289.70" stroke="#5a5a5a" stroke-width="1.6"/>
<line x1="610.70" y1="1286.20" x2="610.70" y2="1282.70" stroke="#5a5a5a" stroke-width="1.6"/>
<text x="284.71" y="1306.10" font-family='"Liberation Sans", Arial, sans-serif' font-size="16.04" fill="#141414" textLength="27.26" lengthAdjust="spacingAndGlyphs" stroke="#141414" stroke-width="0.45" stroke-linejoin="round">NO</text>
<text x="598.19" y="1278.00" font-family='"Liberation Sans", Arial, sans-serif' font-size="17.76" fill="#141414" textLength="27.84" lengthAdjust="spacingAndGlyphs" stroke="#141414" stroke-width="0.45" stroke-linejoin="round">YES</text>
<line x1="298.00" y1="1363.60" x2="636.40" y2="1363.60" stroke="#5a5a5a" stroke-width="1.6"/>
<line x1="298.00" y1="1363.60" x2="298.00" y2="1367.10" stroke="#5a5a5a" stroke-width="1.6"/>
<line x1="636.40" y1="1363.60" x2="636.40" y2="1360.10" stroke="#5a5a5a" stroke-width="1.6"/>
<text x="261.60" y="1383.60" font-family='"Liberation Sans", Arial, sans-serif' font-size="16.42" fill="#141414" textLength="72.11" lengthAdjust="spacingAndGlyphs" stroke="#141414" stroke-width="0.45" stroke-linejoin="round">Negative</text>
<text x="605.63" y="1355.60" font-family='"Liberation Sans", Arial, sans-serif' font-size="16.56" fill="#141414" textLength="62.56" lengthAdjust="spacingAndGlyphs" stroke="#141414" stroke-width="0.45" stroke-linejoin="round">Positive</text>
<line x1="298.00" y1="1441.90" x2="678.20" y2="1441.90" stroke="#5a5a5a" stroke-width="1.6"/>
<line x1="298.00" y1="1441.90" x2="298.00" y2="1445.40" stroke="#5a5a5a" stroke-width="1.6"/>
<line x1="678.20" y1="1441.90" x2="678.20" y2="1438.40" stroke="#5a5a5a" stroke-width="1.6"/>
<text x="262.90" y="1462.00" font-family='"Liberation Sans", Arial, sans-serif' font-size="16.42" fill="#141414" textLength="72.11" lengthAdjust="spacingAndGlyphs" stroke="#141414" stroke-width="0.45" stroke-linejoin="round">Negative</text>
<text x="643.62" y="1434.30" font-family='"Liberation Sans", Arial, sans-serif' font-size="16.56" fill="#141414" textLength="63.29" lengthAdjust="spacingAndGlyphs" stroke="#141414" stroke-width="0.45" stroke-linejoin="round">Positive</text>
<line x1="298.00" y1="1519.70" x2="869.00" y2="1519.70" stroke="#5a5a5a" stroke-width="1.6"/>
<line x1="298.00" y1="1519.70" x2="298.00" y2="1523.20" stroke="#5a5a5a" stroke-width="1.6"/>
<line x1="869.00" y1="1519.70" x2="869.00" y2="1516.20" stroke="#5a5a5a" stroke-width="1.6"/>
<text x="263.80" y="1538.00" font-family='"Liberation Sans", Arial, sans-serif' font-size="16.42" fill="#141414" textLength="72.11" lengthAdjust="spacingAndGlyphs" stroke="#141414" stroke-width="0.45" stroke-linejoin="round">Negative</text>
<text x="838.22" y="1511.60" font-family='"Liberation Sans", Arial, sans-serif' font-size="16.56" fill="#141414" textLength="63.08" lengthAdjust="spacingAndGlyphs" stroke="#141414" stroke-width="0.45" stroke-linejoin="round">Positive</text>
<line x1="298.30" y1="1597.70" x2="868.80" y2="1597.70" stroke="#5a5a5a" stroke-width="1.6"/>
<line x1="298.30" y1="1597.70" x2="298.30" y2="1601.30" stroke="#5a5a5a" stroke-width="1.6"/>
<line x1="379.80" y1="1597.70" x2="379.80" y2="1601.30" stroke="#5a5a5a" stroke-width="1.6"/>
<line x1="461.30" y1="1597.70" x2="461.30" y2="1601.30" stroke="#5a5a5a" stroke-width="1.6"/>
<line x1="542.80" y1="1597.70" x2="542.80" y2="1601.30" stroke="#5a5a5a" stroke-width="1.6"/>
<line x1="624.30" y1="1597.70" x2="624.30" y2="1601.30" stroke="#5a5a5a" stroke-width="1.6"/>
<line x1="705.80" y1="1597.70" x2="705.80" y2="1601.30" stroke="#5a5a5a" stroke-width="1.6"/>
<line x1="787.30" y1="1597.70" x2="787.30" y2="1601.30" stroke="#5a5a5a" stroke-width="1.6"/>
<line x1="868.80" y1="1597.70" x2="868.80" y2="1601.30" stroke="#5a5a5a" stroke-width="1.6"/>
<line x1="314.60" y1="1597.70" x2="314.60" y2="1599.70" stroke="#5a5a5a" stroke-width="1.3"/>
<line x1="330.90" y1="1597.70" x2="330.90" y2="1599.70" stroke="#5a5a5a" stroke-width="1.3"/>
<line x1="347.20" y1="1597.70" x2="347.20" y2="1599.70" stroke="#5a5a5a" stroke-width="1.3"/>
<line x1="363.50" y1="1597.70" x2="363.50" y2="1599.70" stroke="#5a5a5a" stroke-width="1.3"/>
<line x1="396.10" y1="1597.70" x2="396.10" y2="1599.70" stroke="#5a5a5a" stroke-width="1.3"/>
<line x1="412.40" y1="1597.70" x2="412.40" y2="1599.70" stroke="#5a5a5a" stroke-width="1.3"/>
<line x1="428.70" y1="1597.70" x2="428.70" y2="1599.70" stroke="#5a5a5a" stroke-width="1.3"/>
<line x1="445.00" y1="1597.70" x2="445.00" y2="1599.70" stroke="#5a5a5a" stroke-width="1.3"/>
<line x1="477.60" y1="1597.70" x2="477.60" y2="1599.70" stroke="#5a5a5a" stroke-width="1.3"/>
<line x1="493.90" y1="1597.70" x2="493.90" y2="1599.70" stroke="#5a5a5a" stroke-width="1.3"/>
<line x1="510.20" y1="1597.70" x2="510.20" y2="1599.70" stroke="#5a5a5a" stroke-width="1.3"/>
<line x1="526.50" y1="1597.70" x2="526.50" y2="1599.70" stroke="#5a5a5a" stroke-width="1.3"/>
<line x1="559.10" y1="1597.70" x2="559.10" y2="1599.70" stroke="#5a5a5a" stroke-width="1.3"/>
<line x1="575.40" y1="1597.70" x2="575.40" y2="1599.70" stroke="#5a5a5a" stroke-width="1.3"/>
<line x1="591.70" y1="1597.70" x2="591.70" y2="1599.70" stroke="#5a5a5a" stroke-width="1.3"/>
<line x1="608.00" y1="1597.70" x2="608.00" y2="1599.70" stroke="#5a5a5a" stroke-width="1.3"/>
<line x1="640.60" y1="1597.70" x2="640.60" y2="1599.70" stroke="#5a5a5a" stroke-width="1.3"/>
<line x1="656.90" y1="1597.70" x2="656.90" y2="1599.70" stroke="#5a5a5a" stroke-width="1.3"/>
<line x1="673.20" y1="1597.70" x2="673.20" y2="1599.70" stroke="#5a5a5a" stroke-width="1.3"/>
<line x1="689.50" y1="1597.70" x2="689.50" y2="1599.70" stroke="#5a5a5a" stroke-width="1.3"/>
<line x1="722.10" y1="1597.70" x2="722.10" y2="1599.70" stroke="#5a5a5a" stroke-width="1.3"/>
<line x1="738.40" y1="1597.70" x2="738.40" y2="1599.70" stroke="#5a5a5a" stroke-width="1.3"/>
<line x1="754.70" y1="1597.70" x2="754.70" y2="1599.70" stroke="#5a5a5a" stroke-width="1.3"/>
<line x1="771.00" y1="1597.70" x2="771.00" y2="1599.70" stroke="#5a5a5a" stroke-width="1.3"/>
<line x1="803.60" y1="1597.70" x2="803.60" y2="1599.70" stroke="#5a5a5a" stroke-width="1.3"/>
<line x1="819.90" y1="1597.70" x2="819.90" y2="1599.70" stroke="#5a5a5a" stroke-width="1.3"/>
<line x1="836.20" y1="1597.70" x2="836.20" y2="1599.70" stroke="#5a5a5a" stroke-width="1.3"/>
<line x1="852.50" y1="1597.70" x2="852.50" y2="1599.70" stroke="#5a5a5a" stroke-width="1.3"/>
<text x="292.54" y="1622.70" font-family='"Liberation Sans", Arial, sans-serif' font-size="17.19" fill="#141414" textLength="11.52" lengthAdjust="spacingAndGlyphs" stroke="#141414" stroke-width="0.45" stroke-linejoin="round">0</text>
<text x="369.40" y="1622.70" font-family='"Liberation Sans", Arial, sans-serif' font-size="17.19" fill="#141414" textLength="20.78" lengthAdjust="spacingAndGlyphs" stroke="#141414" stroke-width="0.45" stroke-linejoin="round">50</text>
<text x="444.83" y="1622.70" font-family='"Liberation Sans", Arial, sans-serif' font-size="17.19" fill="#141414" textLength="32.23" lengthAdjust="spacingAndGlyphs" stroke="#141414" stroke-width="0.45" stroke-linejoin="round">100</text>
<text x="526.33" y="1622.70" font-family='"Liberation Sans", Arial, sans-serif' font-size="17.19" fill="#141414" textLength="32.23" lengthAdjust="spacingAndGlyphs" stroke="#141414" stroke-width="0.45" stroke-linejoin="round">150</text>
<text x="608.34" y="1622.70" font-family='"Liberation Sans", Arial, sans-serif' font-size="17.19" fill="#141414" textLength="31.70" lengthAdjust="spacingAndGlyphs" stroke="#141414" stroke-width="0.45" stroke-linejoin="round">200</text>
<text x="689.84" y="1622.70" font-family='"Liberation Sans", Arial, sans-serif' font-size="17.19" fill="#141414" textLength="31.70" lengthAdjust="spacingAndGlyphs" stroke="#141414" stroke-width="0.45" stroke-linejoin="round">250</text>
<text x="771.58" y="1622.70" font-family='"Liberation Sans", Arial, sans-serif' font-size="17.19" fill="#141414" textLength="31.45" lengthAdjust="spacingAndGlyphs" stroke="#141414" stroke-width="0.45" stroke-linejoin="round">300</text>
<text x="853.08" y="1622.70" font-family='"Liberation Sans", Arial, sans-serif' font-size="17.19" fill="#141414" textLength="31.45" lengthAdjust="spacingAndGlyphs" stroke="#141414" stroke-width="0.45" stroke-linejoin="round">350</text>
<line x1="345.30" y1="1675.10" x2="854.60" y2="1675.10" stroke="#5a5a5a" stroke-width="1.6"/>
<line x1="345.30" y1="1675.10" x2="345.30" y2="1679.10" stroke="#5a5a5a" stroke-width="1.6"/>
<line x1="437.30" y1="1675.10" x2="437.30" y2="1679.10" stroke="#5a5a5a" stroke-width="1.6"/>
<line x1="508.60" y1="1675.10" x2="508.60" y2="1679.10" stroke="#5a5a5a" stroke-width="1.6"/>
<line x1="586.80" y1="1675.10" x2="586.80" y2="1679.10" stroke="#5a5a5a" stroke-width="1.6"/>
<line x1="639.50" y1="1675.10" x2="639.50" y2="1679.10" stroke="#5a5a5a" stroke-width="1.6"/>
<line x1="682.10" y1="1675.10" x2="682.10" y2="1679.10" stroke="#5a5a5a" stroke-width="1.6"/>
<line x1="721.30" y1="1675.10" x2="721.30" y2="1679.10" stroke="#5a5a5a" stroke-width="1.6"/>
<line x1="760.50" y1="1675.10" x2="760.50" y2="1679.10" stroke="#5a5a5a" stroke-width="1.6"/>
<line x1="802.40" y1="1675.10" x2="802.40" y2="1679.10" stroke="#5a5a5a" stroke-width="1.6"/>
<line x1="854.60" y1="1675.10" x2="854.60" y2="1679.10" stroke="#5a5a5a" stroke-width="1.6"/>
<text x="330.07" y="1698.30" font-family='"Liberation Sans", Arial, sans-serif' font-size="16.76" fill="#141414" textLength="36.47" lengthAdjust="spacingAndGlyphs" stroke="#141414" stroke-width="0.45" stroke-linejoin="round">0.02</text>
<text x="419.17" y="1698.30" font-family='"Liberation Sans", Arial, sans-serif' font-size="16.76" fill="#141414" textLength="36.31" lengthAdjust="spacingAndGlyphs" stroke="#141414" stroke-width="0.45" stroke-linejoin="round">0.05</text>
<text x="495.62" y="1698.30" font-family='"Liberation Sans", Arial, sans-serif' font-size="16.76" fill="#141414" textLength="26.15" lengthAdjust="spacingAndGlyphs" stroke="#141414" stroke-width="0.45" stroke-linejoin="round">0.1</text>
<text x="573.81" y="1698.30" font-family='"Liberation Sans", Arial, sans-serif' font-size="16.76" fill="#141414" textLength="26.18" lengthAdjust="spacingAndGlyphs" stroke="#141414" stroke-width="0.45" stroke-linejoin="round">0.2</text>
<text x="626.52" y="1698.30" font-family='"Liberation Sans", Arial, sans-serif' font-size="16.76" fill="#141414" textLength="26.06" lengthAdjust="spacingAndGlyphs" stroke="#141414" stroke-width="0.45" stroke-linejoin="round">0.3</text>
<text x="669.13" y="1698.30" font-family='"Liberation Sans", Arial, sans-serif' font-size="16.76" fill="#141414" textLength="25.77" lengthAdjust="spacingAndGlyphs" stroke="#141414" stroke-width="0.45" stroke-linejoin="round">0.4</text>
<text x="708.32" y="1698.30" font-family='"Liberation Sans", Arial, sans-serif' font-size="16.76" fill="#141414" textLength="26.02" lengthAdjust="spacingAndGlyphs" stroke="#141414" stroke-width="0.45" stroke-linejoin="round">0.5</text>
<text x="747.52" y="1698.30" font-family='"Liberation Sans", Arial, sans-serif' font-size="16.76" fill="#141414" textLength="26.06" lengthAdjust="spacingAndGlyphs" stroke="#141414" stroke-width="0.45" stroke-linejoin="round">0.6</text>
<text x="789.41" y="1698.30" font-family='"Liberation Sans", Arial, sans-serif' font-size="16.76" fill="#141414" textLength="26.18" lengthAdjust="spacingAndGlyphs" stroke="#141414" stroke-width="0.45" stroke-linejoin="round">0.7</text>
<text x="840.02" y="1698.30" font-family='"Liberation Sans", Arial, sans-serif' font-size="16.76" fill="#141414" textLength="26.05" lengthAdjust="spacingAndGlyphs" stroke="#141414" stroke-width="0.45" stroke-linejoin="round">0.8</text>
<line x1="1148.50" y1="511.10" x2="1634.00" y2="76.10" stroke="#d0d0d0" stroke-width="1.3"/>
<polyline points="1148.7,509.6 1163.3,447.4 1172.7,420.9 1197.6,372.7 1236.5,318.2 1270.7,279.4 1290.9,258.2 1295.6,248.2 1364.0,194.7 1371.8,184.5 1377.1,184.5 1378.0,179.2 1482.3,116.0 1485.5,115.2 1508.7,105.1 1511.5,104.2 1533.6,85.8 1578.7,80.2 1606.7,75.8 1634.5,75.8" fill="none" stroke="#ff0000" stroke-width="2.6" stroke-linejoin="round" stroke-linecap="round"/>
<line x1="1148.50" y1="511.10" x2="1148.50" y2="76.10" stroke="#000" stroke-width="2.4"/>
<line x1="1148.50" y1="511.10" x2="1634.00" y2="511.10" stroke="#000" stroke-width="3.0"/>
<line x1="1138.50" y1="511.10" x2="1148.50" y2="511.10" stroke="#000" stroke-width="2.4"/>
<line x1="1148.50" y1="511.10" x2="1148.50" y2="520.60" stroke="#000" stroke-width="2.4"/>
<text transform="translate(1129.90,526.50) rotate(-90)" x="-0.92" y="0" font-family='"Liberation Sans", Arial, sans-serif' font-size="24.35" fill="#1c1c1c" textLength="32.63" lengthAdjust="spacingAndGlyphs" stroke="#1c1c1c" stroke-width="0.3" stroke-linejoin="round">0.0</text>
<text x="1132.18" y="543.50" font-family='"Liberation Sans", Arial, sans-serif' font-size="20.05" fill="#1c1c1c" textLength="32.63" lengthAdjust="spacingAndGlyphs" stroke="#1c1c1c" stroke-width="0.3" stroke-linejoin="round">0.0</text>
<line x1="1138.50" y1="424.10" x2="1148.50" y2="424.10" stroke="#000" stroke-width="2.4"/>
<line x1="1245.60" y1="511.10" x2="1245.60" y2="520.60" stroke="#000" stroke-width="2.4"/>
<text transform="translate(1129.90,439.50) rotate(-90)" x="-0.92" y="0" font-family='"Liberation Sans", Arial, sans-serif' font-size="24.35" fill="#1c1c1c" textLength="32.92" lengthAdjust="spacingAndGlyphs" stroke="#1c1c1c" stroke-width="0.3" stroke-linejoin="round">0.2</text>
<text x="1229.28" y="543.50" font-family='"Liberation Sans", Arial, sans-serif' font-size="20.05" fill="#1c1c1c" textLength="32.92" lengthAdjust="spacingAndGlyphs" stroke="#1c1c1c" stroke-width="0.3" stroke-linejoin="round">0.2</text>
<line x1="1138.50" y1="337.10" x2="1148.50" y2="337.10" stroke="#000" stroke-width="2.4"/>
<line x1="1342.70" y1="511.10" x2="1342.70" y2="520.60" stroke="#000" stroke-width="2.4"/>
<text transform="translate(1129.90,352.50) rotate(-90)" x="-0.91" y="0" font-family='"Liberation Sans", Arial, sans-serif' font-size="24.35" fill="#1c1c1c" textLength="32.39" lengthAdjust="spacingAndGlyphs" stroke="#1c1c1c" stroke-width="0.3" stroke-linejoin="round">0.4</text>
<text x="1326.39" y="543.50" font-family='"Liberation Sans", Arial, sans-serif' font-size="20.05" fill="#1c1c1c" textLength="32.39" lengthAdjust="spacingAndGlyphs" stroke="#1c1c1c" stroke-width="0.3" stroke-linejoin="round">0.4</text>
<line x1="1138.50" y1="250.10" x2="1148.50" y2="250.10" stroke="#000" stroke-width="2.4"/>
<line x1="1439.80" y1="511.10" x2="1439.80" y2="520.60" stroke="#000" stroke-width="2.4"/>
<text transform="translate(1129.90,265.50) rotate(-90)" x="-0.92" y="0" font-family='"Liberation Sans", Arial, sans-serif' font-size="24.35" fill="#1c1c1c" textLength="32.76" lengthAdjust="spacingAndGlyphs" stroke="#1c1c1c" stroke-width="0.3" stroke-linejoin="round">0.6</text>
<text x="1423.48" y="543.50" font-family='"Liberation Sans", Arial, sans-serif' font-size="20.05" fill="#1c1c1c" textLength="32.76" lengthAdjust="spacingAndGlyphs" stroke="#1c1c1c" stroke-width="0.3" stroke-linejoin="round">0.6</text>
<line x1="1138.50" y1="163.10" x2="1148.50" y2="163.10" stroke="#000" stroke-width="2.4"/>
<line x1="1536.90" y1="511.10" x2="1536.90" y2="520.60" stroke="#000" stroke-width="2.4"/>
<text transform="translate(1129.90,178.50) rotate(-90)" x="-0.92" y="0" font-family='"Liberation Sans", Arial, sans-serif' font-size="24.35" fill="#1c1c1c" textLength="32.74" lengthAdjust="spacingAndGlyphs" stroke="#1c1c1c" stroke-width="0.3" stroke-linejoin="round">0.8</text>
<text x="1520.58" y="543.50" font-family='"Liberation Sans", Arial, sans-serif' font-size="20.05" fill="#1c1c1c" textLength="32.74" lengthAdjust="spacingAndGlyphs" stroke="#1c1c1c" stroke-width="0.3" stroke-linejoin="round">0.8</text>
<line x1="1138.50" y1="76.10" x2="1148.50" y2="76.10" stroke="#000" stroke-width="2.4"/>
<line x1="1634.00" y1="511.10" x2="1634.00" y2="520.60" stroke="#000" stroke-width="2.4"/>
<text transform="translate(1129.90,91.50) rotate(-90)" x="-1.84" y="0" font-family='"Liberation Sans", Arial, sans-serif' font-size="24.35" fill="#1c1c1c" textLength="33.58" lengthAdjust="spacingAndGlyphs" stroke="#1c1c1c" stroke-width="0.3" stroke-linejoin="round">1.0</text>
<text x="1617.76" y="543.50" font-family='"Liberation Sans", Arial, sans-serif' font-size="20.05" fill="#1c1c1c" textLength="33.58" lengthAdjust="spacingAndGlyphs" stroke="#1c1c1c" stroke-width="0.3" stroke-linejoin="round">1.0</text>
<text x="1338.33" y="578.00" font-family='"Liberation Sans", Arial, sans-serif' font-size="17.94" fill="#1c1c1c" textLength="103.70" lengthAdjust="spacingAndGlyphs" stroke="#1c1c1c" stroke-width="0.3" stroke-linejoin="round">1-Specificity</text>
<text transform="translate(1094.40,335.80) rotate(-90)" x="-0.88" y="0" font-family='"Liberation Sans", Arial, sans-serif' font-size="18.77" fill="#1c1c1c" textLength="86.91" lengthAdjust="spacingAndGlyphs" stroke="#1c1c1c" stroke-width="0.3" stroke-linejoin="round">Sensitivity</text>
<text x="1301.75" y="385.10" font-family='"Liberation Sans", Arial, sans-serif' font-size="19.32" fill="#1c1c1c" textLength="324.82" lengthAdjust="spacingAndGlyphs" stroke="#1c1c1c" stroke-width="0.3" stroke-linejoin="round">ROC area(95%CI):0.709(0.656, 0.763)</text>
<text x="1214.80" y="428.70" font-family='"Liberation Sans", Arial, sans-serif' font-size="19.32" fill="#1c1c1c" textLength="402.37" lengthAdjust="spacingAndGlyphs" stroke="#1c1c1c" stroke-width="0.3" stroke-linejoin="round">cut off(sensitivity,specificity):0.074(0.602, 0.696)</text>
<line x1="1145.20" y1="1685.60" x2="1631.40" y2="1250.00" stroke="#d0d0d0" stroke-width="1.3"/>
<polyline points="1144.9,1683.8 1145.9,1652.1 1147.5,1642.6 1150.6,1636.2 1151.6,1621.9 1153.8,1620.4 1160.1,1615.6 1198.2,1541.0 1199.8,1536.3 1231.6,1496.6 1232.2,1491.8 1237.9,1487.0 1244.2,1482.3 1256.9,1466.4 1349.0,1377.6 1358.5,1368.0 1366.4,1363.9 1372.8,1363.3 1475.9,1298.2 1499.7,1284.0 1533.0,1260.1 1596.5,1250.6 1631.4,1250.0" fill="none" stroke="#ff0000" stroke-width="2.6" stroke-linejoin="round" stroke-linecap="round"/>
<line x1="1145.20" y1="1685.60" x2="1145.20" y2="1250.00" stroke="#000" stroke-width="2.4"/>
<line x1="1145.20" y1="1685.60" x2="1631.40" y2="1685.60" stroke="#000" stroke-width="3.0"/>
<line x1="1135.20" y1="1685.60" x2="1145.20" y2="1685.60" stroke="#000" stroke-width="2.4"/>
<line x1="1145.20" y1="1685.60" x2="1145.20" y2="1695.10" stroke="#000" stroke-width="2.4"/>
<text transform="translate(1125.80,1700.90) rotate(-90)" x="-0.91" y="0" font-family='"Liberation Sans", Arial, sans-serif' font-size="23.34" fill="#1c1c1c" textLength="32.42" lengthAdjust="spacingAndGlyphs" stroke="#1c1c1c" stroke-width="0.3" stroke-linejoin="round">0.0</text>
<text x="1128.83" y="1717.10" font-family='"Liberation Sans", Arial, sans-serif' font-size="19.76" fill="#1c1c1c" textLength="32.74" lengthAdjust="spacingAndGlyphs" stroke="#1c1c1c" stroke-width="0.3" stroke-linejoin="round">0.0</text>
<line x1="1135.20" y1="1598.48" x2="1145.20" y2="1598.48" stroke="#000" stroke-width="2.4"/>
<line x1="1242.44" y1="1685.60" x2="1242.44" y2="1695.10" stroke="#000" stroke-width="2.4"/>
<text transform="translate(1125.80,1613.78) rotate(-90)" x="-0.92" y="0" font-family='"Liberation Sans", Arial, sans-serif' font-size="23.34" fill="#1c1c1c" textLength="32.70" lengthAdjust="spacingAndGlyphs" stroke="#1c1c1c" stroke-width="0.3" stroke-linejoin="round">0.2</text>
<text x="1226.06" y="1717.10" font-family='"Liberation Sans", Arial, sans-serif' font-size="19.76" fill="#1c1c1c" textLength="33.02" lengthAdjust="spacingAndGlyphs" stroke="#1c1c1c" stroke-width="0.3" stroke-linejoin="round">0.2</text>
<line x1="1135.20" y1="1511.36" x2="1145.20" y2="1511.36" stroke="#000" stroke-width="2.4"/>
<line x1="1339.68" y1="1685.60" x2="1339.68" y2="1695.10" stroke="#000" stroke-width="2.4"/>
<text transform="translate(1125.80,1526.66) rotate(-90)" x="-0.90" y="0" font-family='"Liberation Sans", Arial, sans-serif' font-size="23.34" fill="#1c1c1c" textLength="32.18" lengthAdjust="spacingAndGlyphs" stroke="#1c1c1c" stroke-width="0.3" stroke-linejoin="round">0.4</text>
<text x="1323.32" y="1717.10" font-family='"Liberation Sans", Arial, sans-serif' font-size="19.76" fill="#1c1c1c" textLength="32.50" lengthAdjust="spacingAndGlyphs" stroke="#1c1c1c" stroke-width="0.3" stroke-linejoin="round">0.4</text>
<line x1="1135.20" y1="1424.24" x2="1145.20" y2="1424.24" stroke="#000" stroke-width="2.4"/>
<line x1="1436.92" y1="1685.60" x2="1436.92" y2="1695.10" stroke="#000" stroke-width="2.4"/>
<text transform="translate(1125.80,1439.54) rotate(-90)" x="-0.91" y="0" font-family='"Liberation Sans", Arial, sans-serif' font-size="23.34" fill="#1c1c1c" textLength="32.54" lengthAdjust="spacingAndGlyphs" stroke="#1c1c1c" stroke-width="0.3" stroke-linejoin="round">0.6</text>
<text x="1420.55" y="1717.10" font-family='"Liberation Sans", Arial, sans-serif' font-size="19.76" fill="#1c1c1c" textLength="32.86" lengthAdjust="spacingAndGlyphs" stroke="#1c1c1c" stroke-width="0.3" stroke-linejoin="round">0.6</text>
<line x1="1135.20" y1="1337.12" x2="1145.20" y2="1337.12" stroke="#000" stroke-width="2.4"/>
<line x1="1534.16" y1="1685.60" x2="1534.16" y2="1695.10" stroke="#000" stroke-width="2.4"/>
<text transform="translate(1125.80,1352.42) rotate(-90)" x="-0.91" y="0" font-family='"Liberation Sans", Arial, sans-serif' font-size="23.34" fill="#1c1c1c" textLength="32.53" lengthAdjust="spacingAndGlyphs" stroke="#1c1c1c" stroke-width="0.3" stroke-linejoin="round">0.8</text>
<text x="1517.79" y="1717.10" font-family='"Liberation Sans", Arial, sans-serif' font-size="19.76" fill="#1c1c1c" textLength="32.85" lengthAdjust="spacingAndGlyphs" stroke="#1c1c1c" stroke-width="0.3" stroke-linejoin="round">0.8</text>
<line x1="1135.20" y1="1250.00" x2="1145.20" y2="1250.00" stroke="#000" stroke-width="2.4"/>
<line x1="1631.40" y1="1685.60" x2="1631.40" y2="1695.10" stroke="#000" stroke-width="2.4"/>
<text transform="translate(1125.80,1265.30) rotate(-90)" x="-1.83" y="0" font-family='"Liberation Sans", Arial, sans-serif' font-size="23.34" fill="#1c1c1c" textLength="33.37" lengthAdjust="spacingAndGlyphs" stroke="#1c1c1c" stroke-width="0.3" stroke-linejoin="round">1.0</text>
<text x="1615.10" y="1717.10" font-family='"Liberation Sans", Arial, sans-serif' font-size="19.76" fill="#1c1c1c" textLength="33.69" lengthAdjust="spacingAndGlyphs" stroke="#1c1c1c" stroke-width="0.3" stroke-linejoin="round">1.0</text>
<text x="1335.55" y="1751.80" font-family='"Liberation Sans", Arial, sans-serif' font-size="18.08" fill="#1c1c1c" textLength="102.89" lengthAdjust="spacingAndGlyphs" stroke="#1c1c1c" stroke-width="0.3" stroke-linejoin="round">1-Specificity</text>
<text transform="translate(1092.00,1509.70) rotate(-90)" x="-0.87" y="0" font-family='"Liberation Sans", Arial, sans-serif' font-size="18.63" fill="#1c1c1c" textLength="85.90" lengthAdjust="spacingAndGlyphs" stroke="#1c1c1c" stroke-width="0.3" stroke-linejoin="round">Sensitivity</text>
<text x="1309.35" y="1558.50" font-family='"Liberation Sans", Arial, sans-serif' font-size="18.49" fill="#1c1c1c" textLength="304.23" lengthAdjust="spacingAndGlyphs" stroke="#1c1c1c" stroke-width="0.3" stroke-linejoin="round">ROC area(95%CI):0.705(0.65, 0.76)</text>
<text x="1216.50" y="1602.00" font-family='"Liberation Sans", Arial, sans-serif' font-size="19.32" fill="#1c1c1c" textLength="392.27" lengthAdjust="spacingAndGlyphs" stroke="#1c1c1c" stroke-width="0.3" stroke-linejoin="round">cut off(sensitivity,specificity):0.06(0.727, 0.562)</text>
<clipPath id="clip628"><rect x="1176.3" y="628.4" width="451.0" height="405.69999999999993"/></clipPath>
<g clip-path="url(#clip628)">
<line x1="1176.30" y1="1034.24" x2="1627.30" y2="630.82" stroke="#000" stroke-width="3.0" stroke-dasharray="7.5 6.5" stroke-dashoffset="10" stroke-linecap="round"/>
</g>
<polyline points="1210.5,1012.5 1216.0,1003.0 1222.0,993.0 1230.1,980.3 1240.0,971.0 1255.9,959.5 1274.5,948.8 1290.0,934.0 1313.1,913.0 1336.0,889.4 1358.0,869.0 1380.4,849.3" fill="none" stroke="#ff0000" stroke-width="3.0" stroke-linejoin="round" stroke-linecap="round"/>
<polyline points="1210.5,1008.2 1220.0,993.0 1230.1,977.4 1240.0,969.5 1250.1,963.8 1262.0,958.0 1273.0,953.0 1290.0,939.0 1313.1,920.1 1331.7,903.7 1345.0,894.0 1356.0,885.8 1366.0,880.0 1380.4,874.3" fill="none" stroke="#0000ff" stroke-width="3.0" stroke-linejoin="round" stroke-linecap="round"/>
<line x1="1210.10" y1="628.40" x2="1210.10" y2="633.20" stroke="#000" stroke-width="1.6"/>
<line x1="1213.50" y1="628.40" x2="1213.50" y2="632.00" stroke="#000" stroke-width="1.6"/>
<line x1="1216.70" y1="628.40" x2="1216.70" y2="638.70" stroke="#000" stroke-width="1.6"/>
<line x1="1219.00" y1="628.40" x2="1219.00" y2="638.00" stroke="#000" stroke-width="1.6"/>
<line x1="1221.00" y1="628.40" x2="1221.00" y2="640.50" stroke="#000" stroke-width="1.6"/>
<line x1="1226.00" y1="628.40" x2="1226.00" y2="636.00" stroke="#000" stroke-width="1.6"/>
<line x1="1233.50" y1="628.40" x2="1233.50" y2="634.00" stroke="#000" stroke-width="1.6"/>
<line x1="1235.00" y1="628.40" x2="1235.00" y2="661.70" stroke="#000" stroke-width="1.6"/>
<line x1="1237.00" y1="628.40" x2="1237.00" y2="634.00" stroke="#000" stroke-width="1.6"/>
<line x1="1244.70" y1="628.40" x2="1244.70" y2="631.00" stroke="#000" stroke-width="1.6"/>
<line x1="1250.90" y1="628.40" x2="1250.90" y2="651.00" stroke="#000" stroke-width="1.6"/>
<line x1="1254.80" y1="628.40" x2="1254.80" y2="633.00" stroke="#000" stroke-width="1.6"/>
<line x1="1260.00" y1="628.40" x2="1260.00" y2="630.50" stroke="#000" stroke-width="1.6"/>
<line x1="1265.00" y1="628.40" x2="1265.00" y2="630.50" stroke="#000" stroke-width="1.6"/>
<line x1="1273.90" y1="628.40" x2="1273.90" y2="638.60" stroke="#000" stroke-width="1.6"/>
<line x1="1288.20" y1="628.40" x2="1288.20" y2="640.50" stroke="#000" stroke-width="1.6"/>
<line x1="1293.70" y1="628.40" x2="1293.70" y2="630.50" stroke="#000" stroke-width="1.6"/>
<line x1="1312.80" y1="628.40" x2="1312.80" y2="638.60" stroke="#000" stroke-width="1.6"/>
<line x1="1318.00" y1="628.40" x2="1318.00" y2="630.50" stroke="#000" stroke-width="1.6"/>
<line x1="1325.30" y1="628.40" x2="1325.30" y2="631.50" stroke="#000" stroke-width="1.6"/>
<line x1="1380.30" y1="628.40" x2="1380.30" y2="635.70" stroke="#000" stroke-width="1.6"/>
<rect x="1176.30" y="628.40" width="451.00" height="405.70" fill="none" stroke="#000" stroke-width="2.0"/>
<line x1="1162.30" y1="1010.00" x2="1176.30" y2="1010.00" stroke="#000" stroke-width="2.0"/>
<line x1="1203.40" y1="1034.10" x2="1203.40" y2="1047.10" stroke="#000" stroke-width="2.0"/>
<text transform="translate(1148.00,1028.20) rotate(-90)" x="-1.08" y="0" font-family='"Liberation Sans", Arial, sans-serif' font-size="28.50" fill="#1c1c1c" textLength="38.57" lengthAdjust="spacingAndGlyphs" stroke="#1c1c1c" stroke-width="0.3" stroke-linejoin="round">0.0</text>
<text x="1182.82" y="1083.20" font-family='"Liberation Sans", Arial, sans-serif' font-size="26.78" fill="#1c1c1c" textLength="40.16" lengthAdjust="spacingAndGlyphs" stroke="#1c1c1c" stroke-width="0.3" stroke-linejoin="round">0.0</text>
<line x1="1162.30" y1="889.60" x2="1176.30" y2="889.60" stroke="#000" stroke-width="2.0"/>
<line x1="1338.00" y1="1034.10" x2="1338.00" y2="1047.10" stroke="#000" stroke-width="2.0"/>
<text transform="translate(1148.00,907.80) rotate(-90)" x="-1.09" y="0" font-family='"Liberation Sans", Arial, sans-serif' font-size="28.50" fill="#1c1c1c" textLength="38.90" lengthAdjust="spacingAndGlyphs" stroke="#1c1c1c" stroke-width="0.3" stroke-linejoin="round">0.2</text>
<text x="1317.41" y="1083.20" font-family='"Liberation Sans", Arial, sans-serif' font-size="26.78" fill="#1c1c1c" textLength="40.50" lengthAdjust="spacingAndGlyphs" stroke="#1c1c1c" stroke-width="0.3" stroke-linejoin="round">0.2</text>
<line x1="1162.30" y1="769.20" x2="1176.30" y2="769.20" stroke="#000" stroke-width="2.0"/>
<line x1="1472.60" y1="1034.10" x2="1472.60" y2="1047.10" stroke="#000" stroke-width="2.0"/>
<text transform="translate(1148.00,787.40) rotate(-90)" x="-1.08" y="0" font-family='"Liberation Sans", Arial, sans-serif' font-size="28.50" fill="#1c1c1c" textLength="38.28" lengthAdjust="spacingAndGlyphs" stroke="#1c1c1c" stroke-width="0.3" stroke-linejoin="round">0.4</text>
<text x="1452.03" y="1083.20" font-family='"Liberation Sans", Arial, sans-serif' font-size="26.78" fill="#1c1c1c" textLength="39.86" lengthAdjust="spacingAndGlyphs" stroke="#1c1c1c" stroke-width="0.3" stroke-linejoin="round">0.4</text>
<line x1="1162.30" y1="648.80" x2="1176.30" y2="648.80" stroke="#000" stroke-width="2.0"/>
<line x1="1607.20" y1="1034.10" x2="1607.20" y2="1047.10" stroke="#000" stroke-width="2.0"/>
<text transform="translate(1148.00,667.00) rotate(-90)" x="-1.09" y="0" font-family='"Liberation Sans", Arial, sans-serif' font-size="28.50" fill="#1c1c1c" textLength="38.71" lengthAdjust="spacingAndGlyphs" stroke="#1c1c1c" stroke-width="0.3" stroke-linejoin="round">0.6</text>
<text x="1586.62" y="1083.20" font-family='"Liberation Sans", Arial, sans-serif' font-size="26.78" fill="#1c1c1c" textLength="40.31" lengthAdjust="spacingAndGlyphs" stroke="#1c1c1c" stroke-width="0.3" stroke-linejoin="round">0.6</text>
<text x="1270.65" y="1118.80" font-family='"Liberation Sans", Arial, sans-serif' font-size="27.46" fill="#1c1c1c" textLength="262.40" lengthAdjust="spacingAndGlyphs" stroke="#1c1c1c" stroke-width="0.3" stroke-linejoin="round">Predicted Probability</text>
<text transform="translate(1104.00,962.00) rotate(-90)" x="-1.35" y="0" font-family='"Liberation Sans", Arial, sans-serif' font-size="27.60" fill="#1c1c1c" textLength="264.40" lengthAdjust="spacingAndGlyphs" stroke="#1c1c1c" stroke-width="0.3" stroke-linejoin="round">Observed Probability</text>
<text x="1130.62" y="1156.00" font-family='"Liberation Sans", Arial, sans-serif' font-size="21.94" fill="#1c1c1c" textLength="268.57" lengthAdjust="spacingAndGlyphs" stroke="#1c1c1c" stroke-width="0.3" stroke-linejoin="round">B= 100 repetitions, boot</text>
<text x="1130.61" y="1186.80" font-family='"Liberation Sans", Arial, sans-serif' font-size="21.11" fill="#1c1c1c" textLength="399.40" lengthAdjust="spacingAndGlyphs" stroke="#1c1c1c" stroke-width="0.3" stroke-linejoin="round">Mean absolute error=0.009 n=1169</text>
<line x1="1352.30" y1="951.50" x2="1387.80" y2="951.50" stroke="#000" stroke-width="3.0" stroke-dasharray="7.5 6.5" stroke-linecap="round"/>
<line x1="1350.80" y1="976.10" x2="1389.30" y2="976.10" stroke="#ff0000" stroke-width="1.5"/>
<line x1="1350.80" y1="1002.60" x2="1389.30" y2="1002.60" stroke="#0000ff" stroke-width="1.5"/>
<text x="1406.93" y="960.40" font-family='"Liberation Sans", Arial, sans-serif' font-size="27.33" fill="#1c1c1c" textLength="62.81" lengthAdjust="spacingAndGlyphs" stroke="#1c1c1c" stroke-width="0.3" stroke-linejoin="round">Ideal</text>
<text x="1409.54" y="985.50" font-family='"Liberation Sans", Arial, sans-serif' font-size="28.78" fill="#1c1c1c" textLength="115.86" lengthAdjust="spacingAndGlyphs" stroke="#1c1c1c" stroke-width="0.3" stroke-linejoin="round">Apparent</text>
<text x="1407.27" y="1011.40" font-family='"Liberation Sans", Arial, sans-serif' font-size="27.33" fill="#1c1c1c" textLength="182.85" lengthAdjust="spacingAndGlyphs" stroke="#1c1c1c" stroke-width="0.3" stroke-linejoin="round">Bias-corrected</text>
<clipPath id="clip1794"><rect x="1173.3" y="1794.3" width="451.20000000000005" height="406.89999999999986"/></clipPath>
<g clip-path="url(#clip1794)">
<line x1="1173.30" y1="2200.72" x2="1624.50" y2="1797.12" stroke="#000" stroke-width="3.0" stroke-dasharray="7.5 6.5" stroke-dashoffset="10" stroke-linecap="round"/>
</g>
<polyline points="1208.0,2177.9 1216.0,2166.0 1224.8,2155.4 1244.4,2134.4 1260.0,2121.0 1275.2,2109.2 1290.0,2102.0 1307.4,2095.2 1320.0,2084.0 1331.2,2072.8 1359.2,2050.4 1381.6,2039.2 1404.0,2022.4 1426.4,1974.8 1445.0,1937.0 1460.0,1907.6 1488.0,1876.8 1552.4,1806.2" fill="none" stroke="#ff0000" stroke-width="3.0" stroke-linejoin="round" stroke-linecap="round"/>
<polyline points="1208.0,2172.2 1227.6,2148.4 1244.4,2130.2 1260.0,2117.0 1275.2,2105.0 1286.4,2100.8 1307.4,2093.8 1320.0,2082.0 1331.2,2070.0 1359.2,2049.0 1381.6,2040.6 1404.0,2026.6 1429.2,1972.0 1445.0,1942.0 1460.0,1918.8 1493.6,1886.6 1530.0,1851.6 1540.0,1843.0 1552.4,1832.6" fill="none" stroke="#0000ff" stroke-width="3.0" stroke-linejoin="round" stroke-linecap="round"/>
<line x1="1206.60" y1="1794.30" x2="1206.60" y2="1798.40" stroke="#000" stroke-width="1.6"/>
<line x1="1210.80" y1="1794.30" x2="1210.80" y2="1800.00" stroke="#000" stroke-width="1.6"/>
<line x1="1215.00" y1="1794.30" x2="1215.00" y2="1802.00" stroke="#000" stroke-width="1.6"/>
<line x1="1219.20" y1="1794.30" x2="1219.20" y2="1803.00" stroke="#000" stroke-width="1.6"/>
<line x1="1223.40" y1="1794.30" x2="1223.40" y2="1811.00" stroke="#000" stroke-width="1.6"/>
<line x1="1232.40" y1="1794.30" x2="1232.40" y2="1827.00" stroke="#000" stroke-width="1.6"/>
<line x1="1237.40" y1="1794.30" x2="1237.40" y2="1798.00" stroke="#000" stroke-width="1.6"/>
<line x1="1248.60" y1="1794.30" x2="1248.60" y2="1798.00" stroke="#000" stroke-width="1.6"/>
<line x1="1253.60" y1="1794.30" x2="1253.60" y2="1818.00" stroke="#000" stroke-width="1.6"/>
<line x1="1257.00" y1="1794.30" x2="1257.00" y2="1798.00" stroke="#000" stroke-width="1.6"/>
<line x1="1269.60" y1="1794.30" x2="1269.60" y2="1797.00" stroke="#000" stroke-width="1.6"/>
<line x1="1278.00" y1="1794.30" x2="1278.00" y2="1802.60" stroke="#000" stroke-width="1.6"/>
<line x1="1292.00" y1="1794.30" x2="1292.00" y2="1797.00" stroke="#000" stroke-width="1.6"/>
<line x1="1317.20" y1="1794.30" x2="1317.20" y2="1804.60" stroke="#000" stroke-width="1.6"/>
<line x1="1331.20" y1="1794.30" x2="1331.20" y2="1796.50" stroke="#000" stroke-width="1.6"/>
<line x1="1362.00" y1="1794.30" x2="1362.00" y2="1796.50" stroke="#000" stroke-width="1.6"/>
<line x1="1376.00" y1="1794.30" x2="1376.00" y2="1796.50" stroke="#000" stroke-width="1.6"/>
<line x1="1404.00" y1="1794.30" x2="1404.00" y2="1796.50" stroke="#000" stroke-width="1.6"/>
<line x1="1440.40" y1="1794.30" x2="1440.40" y2="1796.50" stroke="#000" stroke-width="1.6"/>
<line x1="1504.80" y1="1794.30" x2="1504.80" y2="1796.50" stroke="#000" stroke-width="1.6"/>
<line x1="1591.60" y1="1794.30" x2="1591.60" y2="1796.50" stroke="#000" stroke-width="1.6"/>
<rect x="1173.30" y="1794.30" width="451.20" height="406.90" fill="none" stroke="#000" stroke-width="2.0"/>
<line x1="1159.30" y1="2176.30" x2="1173.30" y2="2176.30" stroke="#000" stroke-width="2.0"/>
<line x1="1200.60" y1="2201.20" x2="1200.60" y2="2214.20" stroke="#000" stroke-width="2.0"/>
<text transform="translate(1144.80,2194.50) rotate(-90)" x="-1.08" y="0" font-family='"Liberation Sans", Arial, sans-serif' font-size="28.36" fill="#1c1c1c" textLength="38.57" lengthAdjust="spacingAndGlyphs" stroke="#1c1c1c" stroke-width="0.3" stroke-linejoin="round">0.0</text>
<text x="1179.92" y="2251.00" font-family='"Liberation Sans", Arial, sans-serif' font-size="28.93" fill="#1c1c1c" textLength="40.37" lengthAdjust="spacingAndGlyphs" stroke="#1c1c1c" stroke-width="0.3" stroke-linejoin="round">0.0</text>
<line x1="1159.30" y1="2055.90" x2="1173.30" y2="2055.90" stroke="#000" stroke-width="2.0"/>
<line x1="1335.20" y1="2201.20" x2="1335.20" y2="2214.20" stroke="#000" stroke-width="2.0"/>
<text transform="translate(1144.80,2074.10) rotate(-90)" x="-1.09" y="0" font-family='"Liberation Sans", Arial, sans-serif' font-size="28.36" fill="#1c1c1c" textLength="38.90" lengthAdjust="spacingAndGlyphs" stroke="#1c1c1c" stroke-width="0.3" stroke-linejoin="round">0.2</text>
<text x="1314.51" y="2251.00" font-family='"Liberation Sans", Arial, sans-serif' font-size="28.93" fill="#1c1c1c" textLength="40.72" lengthAdjust="spacingAndGlyphs" stroke="#1c1c1c" stroke-width="0.3" stroke-linejoin="round">0.2</text>
<line x1="1159.30" y1="1935.50" x2="1173.30" y2="1935.50" stroke="#000" stroke-width="2.0"/>
<line x1="1469.80" y1="2201.20" x2="1469.80" y2="2214.20" stroke="#000" stroke-width="2.0"/>
<text transform="translate(1144.80,1953.70) rotate(-90)" x="-1.08" y="0" font-family='"Liberation Sans", Arial, sans-serif' font-size="28.36" fill="#1c1c1c" textLength="38.28" lengthAdjust="spacingAndGlyphs" stroke="#1c1c1c" stroke-width="0.3" stroke-linejoin="round">0.4</text>
<text x="1449.12" y="2251.00" font-family='"Liberation Sans", Arial, sans-serif' font-size="28.93" fill="#1c1c1c" textLength="40.07" lengthAdjust="spacingAndGlyphs" stroke="#1c1c1c" stroke-width="0.3" stroke-linejoin="round">0.4</text>
<line x1="1159.30" y1="1815.10" x2="1173.30" y2="1815.10" stroke="#000" stroke-width="2.0"/>
<line x1="1604.40" y1="2201.20" x2="1604.40" y2="2214.20" stroke="#000" stroke-width="2.0"/>
<text transform="translate(1144.80,1833.30) rotate(-90)" x="-1.09" y="0" font-family='"Liberation Sans", Arial, sans-serif' font-size="28.36" fill="#1c1c1c" textLength="38.71" lengthAdjust="spacingAndGlyphs" stroke="#1c1c1c" stroke-width="0.3" stroke-linejoin="round">0.6</text>
<text x="1583.71" y="2251.00" font-family='"Liberation Sans", Arial, sans-serif' font-size="28.93" fill="#1c1c1c" textLength="40.52" lengthAdjust="spacingAndGlyphs" stroke="#1c1c1c" stroke-width="0.3" stroke-linejoin="round">0.6</text>
<text x="1280.76" y="2287.30" font-family='"Liberation Sans", Arial, sans-serif' font-size="26.91" fill="#1c1c1c" textLength="262.00" lengthAdjust="spacingAndGlyphs" stroke="#1c1c1c" stroke-width="0.3" stroke-linejoin="round">Predicted Probability</text>
<text transform="translate(1100.60,2126.70) rotate(-90)" x="-1.35" y="0" font-family='"Liberation Sans", Arial, sans-serif' font-size="28.29" fill="#1c1c1c" textLength="264.20" lengthAdjust="spacingAndGlyphs" stroke="#1c1c1c" stroke-width="0.3" stroke-linejoin="round">Observed Probability</text>
<text x="1131.32" y="2324.50" font-family='"Liberation Sans", Arial, sans-serif' font-size="22.08" fill="#1c1c1c" textLength="268.47" lengthAdjust="spacingAndGlyphs" stroke="#1c1c1c" stroke-width="0.3" stroke-linejoin="round">B= 100 repetitions, boot</text>
<text x="1131.31" y="2355.50" font-family='"Liberation Sans", Arial, sans-serif' font-size="21.39" fill="#1c1c1c" textLength="400.20" lengthAdjust="spacingAndGlyphs" stroke="#1c1c1c" stroke-width="0.3" stroke-linejoin="round">Mean absolute error=0.009 n=1169</text>
<line x1="1346.70" y1="2112.60" x2="1381.50" y2="2112.60" stroke="#000" stroke-width="3.0" stroke-dasharray="7.5 6.5" stroke-linecap="round"/>
<line x1="1345.20" y1="2137.80" x2="1383.00" y2="2137.80" stroke="#ff0000" stroke-width="1.5"/>
<line x1="1345.20" y1="2163.80" x2="1383.00" y2="2163.80" stroke="#0000ff" stroke-width="1.5"/>
<text x="1399.92" y="2121.80" font-family='"Liberation Sans", Arial, sans-serif' font-size="27.33" fill="#1c1c1c" textLength="63.03" lengthAdjust="spacingAndGlyphs" stroke="#1c1c1c" stroke-width="0.3" stroke-linejoin="round">Ideal</text>
<text x="1402.54" y="2146.20" font-family='"Liberation Sans", Arial, sans-serif' font-size="28.78" fill="#1c1c1c" textLength="116.17" lengthAdjust="spacingAndGlyphs" stroke="#1c1c1c" stroke-width="0.3" stroke-linejoin="round">Apparent</text>
<text x="1400.27" y="2172.20" font-family='"Liberation Sans", Arial, sans-serif' font-size="27.33" fill="#1c1c1c" textLength="183.06" lengthAdjust="spacingAndGlyphs" stroke="#1c1c1c" stroke-width="0.3" stroke-linejoin="round">Bias-corrected</text>
<line x1="194.90" y1="1898.00" x2="194.90" y2="2283.00" stroke="#e8e8e8" stroke-width="1.5"/>
<line x1="296.90" y1="1898.00" x2="296.90" y2="2283.00" stroke="#e8e8e8" stroke-width="1.5"/>
<line x1="398.90" y1="1898.00" x2="398.90" y2="2283.00" stroke="#e8e8e8" stroke-width="1.5"/>
<line x1="500.90" y1="1898.00" x2="500.90" y2="2283.00" stroke="#e8e8e8" stroke-width="1.5"/>
<line x1="602.90" y1="1898.00" x2="602.90" y2="2283.00" stroke="#e8e8e8" stroke-width="1.5"/>
<line x1="704.90" y1="1898.00" x2="704.90" y2="2283.00" stroke="#e8e8e8" stroke-width="1.5"/>
<line x1="806.90" y1="1898.00" x2="806.90" y2="2283.00" stroke="#e8e8e8" stroke-width="1.5"/>
<line x1="908.90" y1="1898.00" x2="908.90" y2="2283.00" stroke="#e8e8e8" stroke-width="1.5"/>
<line x1="166.60" y1="2178.40" x2="936.00" y2="2178.40" stroke="#e8e8e8" stroke-width="1.5"/>
<line x1="166.60" y1="2088.40" x2="936.00" y2="2088.40" stroke="#e8e8e8" stroke-width="1.5"/>
<line x1="166.60" y1="1998.40" x2="936.00" y2="1998.40" stroke="#e8e8e8" stroke-width="1.5"/>
<line x1="166.60" y1="1908.40" x2="936.00" y2="1908.40" stroke="#e8e8e8" stroke-width="1.5"/>
<line x1="194.30" y1="2268.90" x2="938.30" y2="2268.90" stroke="#707070" stroke-width="1.9"/>
<line x1="201.00" y1="1935.20" x2="278.80" y2="2283.00" stroke="#a0a0a0" stroke-width="3.0"/>
<polyline points="201.0,1935.2 205.9,1956.6 212.0,1978.5 218.0,1999.3 225.4,2020.0 230.2,2042.0 235.1,2060.2 241.2,2082.2 247.3,2102.9 254.6,2121.2 263.2,2139.5 270.2,2152.9 279.6,2167.0 288.2,2181.1 298.4,2195.2 304.6,2206.2 314.0,2212.5 325.0,2222.7 341.4,2229.3 360.4,2236.7 375.2,2243.1 398.5,2250.5 428.1,2257.9 453.5,2264.2 478.9,2268.9 938.3,2268.9" fill="none" stroke="#ff0000" stroke-width="3.2" stroke-linejoin="round"/>
<polyline points="201.0,1935.2 205.9,1956.6 212.0,1978.5 218.0,1999.3 225.4,2020.0 230.2,2042.0 235.1,2060.2 241.2,2082.2 247.3,2102.9 254.6,2121.2 263.2,2139.5" fill="none" stroke="#ff0000" stroke-width="4.4" stroke-linejoin="round"/>
<polyline points="201.0,1935.2 205.9,1956.6 212.0,1978.5 218.0,1999.3 225.4,2020.0 230.2,2042.0 235.1,2060.2 241.2,2082.2 247.3,2102.9 254.6,2121.2 263.2,2139.5 267.0,2147.0 272.0,2160.0 276.0,2168.0 285.0,2184.3 294.5,2193.7 302.3,2199.2 312.5,2205.4 321.9,2213.3 333.6,2219.5 340.0,2223.4 349.8,2232.5 367.8,2245.2 377.3,2242.0 387.9,2235.7 398.5,2235.7 411.2,2232.1 423.9,2232.9 436.6,2234.6 449.3,2239.9 459.8,2241.0 470.4,2243.1 481.0,2247.7 508.5,2250.5 523.3,2246.9 559.3,2248.4 572.0,2253.7 588.9,2254.7 601.6,2247.3 620.0,2247.3 732.2,2248.3 745.6,2260.6 783.7,2261.8 794.9,2266.2 846.4,2267.4 855.4,2271.4 938.3,2275.2" fill="none" stroke="#0000ff" stroke-width="3.5" stroke-linejoin="round" stroke-dasharray="7.1 6.9" stroke-linecap="round"/>
<polyline points="201.0,1935.2 205.9,1956.6 212.0,1978.5 218.0,1999.3 225.4,2020.0 230.2,2042.0 235.1,2060.2 241.2,2082.2 247.3,2102.9 254.6,2121.2 263.2,2139.5" fill="none" stroke="#0000ff" stroke-width="4.6" stroke-linejoin="round" stroke-dasharray="7.1 6.9" stroke-linecap="round"/>
<line x1="166.60" y1="1908.70" x2="166.60" y2="2268.40" stroke="#505050" stroke-width="2.2"/>
<line x1="151.30" y1="1908.70" x2="166.60" y2="1908.70" stroke="#505050" stroke-width="1.8"/>
<line x1="151.30" y1="1934.60" x2="166.60" y2="1934.60" stroke="#505050" stroke-width="1.8"/>
<line x1="151.30" y1="1998.40" x2="166.60" y2="1998.40" stroke="#505050" stroke-width="1.8"/>
<line x1="151.30" y1="2088.40" x2="166.60" y2="2088.40" stroke="#505050" stroke-width="1.8"/>
<line x1="151.30" y1="2178.40" x2="166.60" y2="2178.40" stroke="#505050" stroke-width="1.8"/>
<line x1="151.30" y1="2268.40" x2="166.60" y2="2268.40" stroke="#505050" stroke-width="1.8"/>
<line x1="194.90" y1="2283.00" x2="908.00" y2="2283.00" stroke="#505050" stroke-width="2.2"/>
<line x1="194.90" y1="2283.00" x2="194.90" y2="2291.00" stroke="#505050" stroke-width="2.2"/>
<line x1="296.90" y1="2283.00" x2="296.90" y2="2291.00" stroke="#505050" stroke-width="2.2"/>
<line x1="398.90" y1="2283.00" x2="398.90" y2="2291.00" stroke="#505050" stroke-width="2.2"/>
<line x1="500.90" y1="2283.00" x2="500.90" y2="2291.00" stroke="#505050" stroke-width="2.2"/>
<line x1="602.90" y1="2283.00" x2="602.90" y2="2291.00" stroke="#505050" stroke-width="2.2"/>
<line x1="704.90" y1="2283.00" x2="704.90" y2="2291.00" stroke="#505050" stroke-width="2.2"/>
<line x1="806.90" y1="2283.00" x2="806.90" y2="2291.00" stroke="#505050" stroke-width="2.2"/>
<line x1="908.90" y1="2283.00" x2="908.90" y2="2291.00" stroke="#505050" stroke-width="2.2"/>
<line x1="277.60" y1="2283.00" x2="277.60" y2="2291.00" stroke="#505050" stroke-width="2.0"/>
<line x1="277.60" y1="2291.00" x2="232.20" y2="2315.80" stroke="#505050" stroke-width="1.3"/>
<text x="78.39" y="1913.70" font-family='"Liberation Sans", Arial, sans-serif' font-size="14.89" fill="#262626" textLength="60.36" lengthAdjust="spacingAndGlyphs" stroke="#262626" stroke-width="0.3" stroke-linejoin="round">0.08</text>
<text x="61.49" y="1938.60" font-family='"Liberation Sans", Arial, sans-serif' font-size="15.75" fill="#262626" textLength="77.20" lengthAdjust="spacingAndGlyphs" stroke="#262626" stroke-width="0.3" stroke-linejoin="round">0.075</text>
<text transform="translate(136.80,2014.00) rotate(-90)" x="-0.67" y="0" font-family='"Liberation Sans", Arial, sans-serif' font-size="30.65" fill="#262626" textLength="33.22" lengthAdjust="spacingAndGlyphs" stroke="#262626" stroke-width="0.3" stroke-linejoin="round">0.06</text>
<text transform="translate(136.80,2104.00) rotate(-90)" x="-0.66" y="0" font-family='"Liberation Sans", Arial, sans-serif' font-size="30.65" fill="#262626" textLength="32.96" lengthAdjust="spacingAndGlyphs" stroke="#262626" stroke-width="0.3" stroke-linejoin="round">0.04</text>
<text transform="translate(136.80,2194.00) rotate(-90)" x="-0.67" y="0" font-family='"Liberation Sans", Arial, sans-serif' font-size="30.65" fill="#262626" textLength="33.33" lengthAdjust="spacingAndGlyphs" stroke="#262626" stroke-width="0.3" stroke-linejoin="round">0.02</text>
<text transform="translate(136.80,2284.00) rotate(-90)" x="-0.66" y="0" font-family='"Liberation Sans", Arial, sans-serif' font-size="30.65" fill="#262626" textLength="33.13" lengthAdjust="spacingAndGlyphs" stroke="#262626" stroke-width="0.3" stroke-linejoin="round">0.00</text>
<text transform="translate(81.80,2129.40) rotate(-90)" x="-1.40" y="0" font-family='"Liberation Sans", Arial, sans-serif' font-size="29.40" fill="#262626" textLength="82.52" lengthAdjust="spacingAndGlyphs" stroke="#262626" stroke-width="0.3" stroke-linejoin="round">Net benefit</text>
<text x="173.74" y="2311.70" font-family='"Liberation Sans", Arial, sans-serif' font-size="14.04" fill="#262626" textLength="41.11" lengthAdjust="spacingAndGlyphs" stroke="#262626" stroke-width="0.3" stroke-linejoin="round">0.0</text>
<text x="275.84" y="2311.70" font-family='"Liberation Sans", Arial, sans-serif' font-size="14.04" fill="#262626" textLength="41.42" lengthAdjust="spacingAndGlyphs" stroke="#262626" stroke-width="0.3" stroke-linejoin="round">0.1</text>
<text x="377.83" y="2311.70" font-family='"Liberation Sans", Arial, sans-serif' font-size="14.04" fill="#262626" textLength="41.47" lengthAdjust="spacingAndGlyphs" stroke="#262626" stroke-width="0.3" stroke-linejoin="round">0.2</text>
<text x="480.04" y="2311.70" font-family='"Liberation Sans", Arial, sans-serif' font-size="14.04" fill="#262626" textLength="41.26" lengthAdjust="spacingAndGlyphs" stroke="#262626" stroke-width="0.3" stroke-linejoin="round">0.3</text>
<text x="581.95" y="2311.70" font-family='"Liberation Sans", Arial, sans-serif' font-size="14.04" fill="#262626" textLength="40.81" lengthAdjust="spacingAndGlyphs" stroke="#262626" stroke-width="0.3" stroke-linejoin="round">0.4</text>
<text x="683.64" y="2311.70" font-family='"Liberation Sans", Arial, sans-serif' font-size="14.04" fill="#262626" textLength="41.20" lengthAdjust="spacingAndGlyphs" stroke="#262626" stroke-width="0.3" stroke-linejoin="round">0.5</text>
<text x="785.64" y="2311.70" font-family='"Liberation Sans", Arial, sans-serif' font-size="14.04" fill="#262626" textLength="41.26" lengthAdjust="spacingAndGlyphs" stroke="#262626" stroke-width="0.3" stroke-linejoin="round">0.6</text>
<text x="887.73" y="2311.70" font-family='"Liberation Sans", Arial, sans-serif' font-size="14.04" fill="#262626" textLength="41.47" lengthAdjust="spacingAndGlyphs" stroke="#262626" stroke-width="0.3" stroke-linejoin="round">0.7</text>
<text x="190.13" y="2329.80" font-family='"Liberation Sans", Arial, sans-serif' font-size="15.75" fill="#262626" textLength="75.13" lengthAdjust="spacingAndGlyphs" stroke="#262626" stroke-width="0.3" stroke-linejoin="round">0.075</text>
<text x="421.32" y="2342.20" font-family='"Liberation Sans", Arial, sans-serif' font-size="15.46" fill="#262626" textLength="259.70" lengthAdjust="spacingAndGlyphs" stroke="#262626" stroke-width="0.3" stroke-linejoin="round">Threshold probabilt</text>
<rect x="624.20" y="1873.90" width="312.30" height="96.50" fill="#ffffff" stroke="#111" stroke-width="1.6"/>
<line x1="646.40" y1="1888.40" x2="692.30" y2="1888.40" stroke="#ff0000" stroke-width="3.2"/>
<line x1="647.50" y1="1911.00" x2="688.50" y2="1911.00" stroke="#0000ff" stroke-width="3.2" stroke-dasharray="7.1 6.9" stroke-linecap="round"/>
<line x1="647.00" y1="1932.10" x2="692.00" y2="1932.10" stroke="#b0b0b0" stroke-width="2.4"/>
<line x1="647.00" y1="1954.10" x2="692.00" y2="1954.10" stroke="#555555" stroke-width="1.6"/>
<text x="712.80" y="1893.60" font-family='"Liberation Sans", Arial, sans-serif' font-weight="bold" font-size="14.63" fill="#111" textLength="191.47" lengthAdjust="spacingAndGlyphs">TURP-PI model</text>
<text x="714.69" y="1915.60" font-family='"Liberation Sans", Arial, sans-serif' font-weight="bold" font-size="14.63" fill="#111" textLength="212.03" lengthAdjust="spacingAndGlyphs">I-TURP-PI model</text>
<text x="715.92" y="1936.80" font-family='"Liberation Sans", Arial, sans-serif' font-weight="bold" font-size="15.41" fill="#111" textLength="45.61" lengthAdjust="spacingAndGlyphs">ALL</text>
<text x="713.57" y="1958.60" font-family='"Liberation Sans", Arial, sans-serif' font-weight="bold" font-size="15.41" fill="#111" textLength="68.36" lengthAdjust="spacingAndGlyphs">None</text>
</svg>
</body></html>
